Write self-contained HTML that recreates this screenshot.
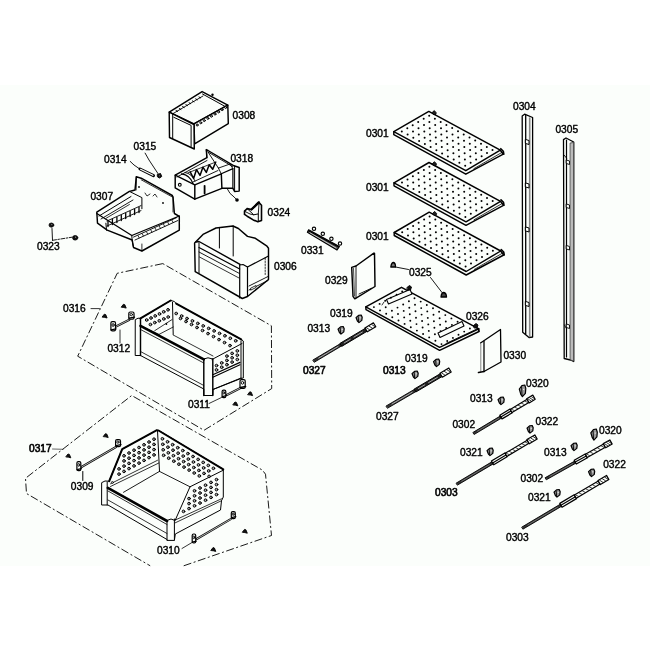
<!DOCTYPE html>
<html><head><meta charset="utf-8"><style>
html,body{margin:0;padding:0;background:#fff;}
svg{display:block;will-change:transform;}
text{font-family:"Liberation Sans",sans-serif;fill:#000;}
</style></head><body>
<svg width="650" height="650" viewBox="0 0 650 650" stroke-linejoin="round" stroke-linecap="round">
<rect width="650" height="650" fill="#fff"/>
<rect x="0" y="85" width="650" height="481" fill="#fbfefb"/>
<text x="232.6" y="118.6" font-size="10.2" stroke="#000" stroke-width="0.4">0308</text>
<text x="230.4" y="162.4" font-size="10.2" stroke="#000" stroke-width="0.4">0318</text>
<text x="133.6" y="150" font-size="10.2" stroke="#000" stroke-width="0.4">0315</text>
<text x="104" y="163" font-size="10.2" stroke="#000" stroke-width="0.4">0314</text>
<text x="90.4" y="199.6" font-size="10.2" stroke="#000" stroke-width="0.4">0307</text>
<text x="37" y="249.6" font-size="10.2" stroke="#000" stroke-width="0.4">0323</text>
<text x="267.6" y="216" font-size="10.2" stroke="#000" stroke-width="0.4">0324</text>
<text x="274" y="270" font-size="10.2" stroke="#000" stroke-width="0.4">0306</text>
<text x="301" y="254.4" font-size="10.2" stroke="#000" stroke-width="0.4">0331</text>
<text x="63" y="312" font-size="10.2" stroke="#000" stroke-width="0.4">0316</text>
<text x="107.4" y="352" font-size="10.2" stroke="#000" stroke-width="0.4">0312</text>
<text x="188" y="408" font-size="10.2" stroke="#000" stroke-width="0.4">0311</text>
<text x="29" y="451.8" font-size="10.2" stroke="#000" stroke-width="0.6">0317</text>
<text x="70.8" y="489.8" font-size="10.2" stroke="#000" stroke-width="0.4">0309</text>
<text x="157" y="553.6" font-size="10.2" stroke="#000" stroke-width="0.4">0310</text>
<text x="366" y="137.2" font-size="10.2" stroke="#000" stroke-width="0.4">0301</text>
<text x="366" y="191" font-size="10.2" stroke="#000" stroke-width="0.4">0301</text>
<text x="366" y="240" font-size="10.2" stroke="#000" stroke-width="0.4">0301</text>
<text x="513" y="110.4" font-size="10.2" stroke="#000" stroke-width="0.4">0304</text>
<text x="555.4" y="132.7" font-size="10.2" stroke="#000" stroke-width="0.4">0305</text>
<text x="325" y="284" font-size="10.2" stroke="#000" stroke-width="0.4">0329</text>
<text x="409" y="275.5" font-size="10.2" stroke="#000" stroke-width="0.4">0325</text>
<text x="330" y="316.6" font-size="10.2" stroke="#000" stroke-width="0.4">0319</text>
<text x="405" y="362" font-size="10.2" stroke="#000" stroke-width="0.4">0319</text>
<text x="307.4" y="332" font-size="10.2" stroke="#000" stroke-width="0.4">0313</text>
<text x="383" y="374.4" font-size="10.2" stroke="#000" stroke-width="0.6">0313</text>
<text x="470" y="402.4" font-size="10.2" stroke="#000" stroke-width="0.4">0313</text>
<text x="544" y="455.6" font-size="10.2" stroke="#000" stroke-width="0.4">0313</text>
<text x="466" y="319.6" font-size="10.2" stroke="#000" stroke-width="0.4">0326</text>
<text x="503.4" y="358.5" font-size="10.2" stroke="#000" stroke-width="0.4">0330</text>
<text x="303" y="374.4" font-size="10.2" stroke="#000" stroke-width="0.6">0327</text>
<text x="376" y="420" font-size="10.2" stroke="#000" stroke-width="0.4">0327</text>
<text x="526" y="387.4" font-size="10.2" stroke="#000" stroke-width="0.4">0320</text>
<text x="599" y="433.6" font-size="10.2" stroke="#000" stroke-width="0.4">0320</text>
<text x="452.4" y="428.2" font-size="10.2" stroke="#000" stroke-width="0.4">0302</text>
<text x="520.5" y="482" font-size="10.2" stroke="#000" stroke-width="0.4">0302</text>
<text x="535.5" y="425.4" font-size="10.2" stroke="#000" stroke-width="0.4">0322</text>
<text x="603.2" y="467.5" font-size="10.2" stroke="#000" stroke-width="0.4">0322</text>
<text x="460" y="455.6" font-size="10.2" stroke="#000" stroke-width="0.4">0321</text>
<text x="528" y="501.2" font-size="10.2" stroke="#000" stroke-width="0.4">0321</text>
<text x="435" y="495.6" font-size="10.2" stroke="#000" stroke-width="0.6">0303</text>
<text x="506" y="541" font-size="10.2" stroke="#000" stroke-width="0.4">0303</text>
<polyline points="162.8,263.6 117.2,273.3 77.7,356.2 204.0,430.3 271.7,388.6 271.4,325.8 162.8,263.6" fill="none" stroke="#000" stroke-width="0.9" stroke-dasharray="8 2.5 2 2.5" stroke-linecap="butt"/>
<polyline points="183.7,565.8 271.5,535.5 265.5,474.2 262.4,470.1 131.7,395.5 25.5,478.3 26.5,493.5 150.2,565.8" fill="none" stroke="#000" stroke-width="0.9" stroke-dasharray="8 2.5 2 2.5" stroke-linecap="butt"/>
<polygon points="169.2,112.1 202.1,91.6 227.8,105.2 194.0,123.8" fill="#fbfefb" stroke="#000" stroke-width="1.45" />
<polygon points="194.0,123.8 227.8,105.2 228.3,123.6 194.6,143.8" fill="#fbfefb" stroke="#000" stroke-width="1.45" />
<polygon points="169.2,112.1 194.0,124.5 194.3,149.0 169.5,137.5" fill="#fbfefb" stroke="#000" stroke-width="1.45" />
<polyline points="172.7,114.0 172.7,138.5" fill="none" stroke="#000" stroke-width="1.0" />
<polyline points="173.8,117.3 191.1,125.4 191.1,146.5" fill="none" stroke="#000" stroke-width="1.0" />
<polyline points="172.7,113.8 203.0,96.0" fill="none" stroke="#000" stroke-width="0.9" />
<polyline points="202.5,94.0 227.0,107.5" fill="none" stroke="#000" stroke-width="1.0" />
<line x1="176.0" y1="110.5" x2="177.6" y2="111.4" stroke="#000" stroke-width="1.0" />
<line x1="179.3" y1="108.6" x2="180.9" y2="109.5" stroke="#000" stroke-width="1.0" />
<line x1="182.6" y1="106.6" x2="184.2" y2="107.5" stroke="#000" stroke-width="1.0" />
<line x1="185.9" y1="104.7" x2="187.5" y2="105.6" stroke="#000" stroke-width="1.0" />
<line x1="189.1" y1="102.8" x2="190.7" y2="103.7" stroke="#000" stroke-width="1.0" />
<line x1="192.4" y1="100.9" x2="194.0" y2="101.8" stroke="#000" stroke-width="1.0" />
<line x1="195.7" y1="98.9" x2="197.3" y2="99.8" stroke="#000" stroke-width="1.0" />
<line x1="199.0" y1="97.0" x2="200.6" y2="97.9" stroke="#000" stroke-width="1.0" />
<circle cx="197.2" cy="125.0" r="1.0" fill="#fbfefb" stroke="#000" stroke-width="1.0"/>
<circle cx="200.8" cy="122.8" r="1.0" fill="#fbfefb" stroke="#000" stroke-width="1.0"/>
<circle cx="204.3" cy="120.6" r="1.0" fill="#fbfefb" stroke="#000" stroke-width="1.0"/>
<circle cx="207.9" cy="118.4" r="1.0" fill="#fbfefb" stroke="#000" stroke-width="1.0"/>
<circle cx="211.4" cy="116.2" r="1.0" fill="#fbfefb" stroke="#000" stroke-width="1.0"/>
<circle cx="215.0" cy="114.1" r="1.0" fill="#fbfefb" stroke="#000" stroke-width="1.0"/>
<circle cx="218.6" cy="111.9" r="1.0" fill="#fbfefb" stroke="#000" stroke-width="1.0"/>
<circle cx="222.1" cy="109.7" r="1.0" fill="#fbfefb" stroke="#000" stroke-width="1.0"/>
<circle cx="225.7" cy="107.5" r="1.0" fill="#fbfefb" stroke="#000" stroke-width="1.0"/>
<circle cx="212.5" cy="94.8" r="1.2" fill="#000" stroke="none" stroke-width="1"/>
<polygon points="175.2,175.2 206.9,157.7 206.3,149.6 208.0,150.5 234.0,165.8 239.2,167.5 239.2,191.1 234.6,191.5 232.9,188.3 221.9,188.3 194.8,199.2 175.2,187.9" fill="#fbfefb" stroke="#000" stroke-width="1.45" />
<polyline points="175.2,175.2 194.8,184.8 194.8,199.2" fill="none" stroke="#000" stroke-width="1.45" />
<polyline points="194.8,184.8 221.3,173.8 221.9,188.3" fill="none" stroke="#000" stroke-width="1.45" />
<polyline points="221.3,173.8 232.9,168.6 232.9,188.3" fill="none" stroke="#000" stroke-width="1.2" />
<polyline points="218.4,168.1 221.3,173.8" fill="none" stroke="#000" stroke-width="0.9" />
<polyline points="218.4,168.1 230.0,164.0 232.9,168.6" fill="none" stroke="#000" stroke-width="0.9" />
<polyline points="234.6,166.0 234.6,191.5" fill="none" stroke="#000" stroke-width="1.0" />
<polyline points="206.3,149.6 206.9,157.7" fill="none" stroke="#000" stroke-width="1.0" />
<polyline points="208.0,152.0 232.5,166.5" fill="none" stroke="#000" stroke-width="0.9" />
<polyline points="208.0,152.0 218.4,168.1" fill="none" stroke="#000" stroke-width="0.9" />
<polyline points="177.0,177.0 207.0,160.5" fill="none" stroke="#000" stroke-width="0.9" />
<polyline points="183.0,181.0 187.3,171.0" fill="none" stroke="#000" stroke-width="0.0" />
<polyline points="190.2,171.9 193.6,178.5 196.5,169.6 200.0,175.4 202.9,167.2 206.3,172.4 209.2,164.8 212.7,169.3 215.6,162.4" fill="none" stroke="#000" stroke-width="1.5" />
<polyline points="188.0,172.8 216.0,162.0" fill="none" stroke="#000" stroke-width="0.8" />
<polyline points="193.0,182.0 218.0,170.5" fill="none" stroke="#000" stroke-width="0.9" />
<path d="M181.5,173.8 Q190,175 193,183.5" fill="none" stroke="#000" stroke-width="1.2"/>
<path d="M185,172.5 Q192,173.5 195,181" fill="none" stroke="#000" stroke-width="0.9"/>
<polyline points="204.6,185.8 204.6,193.4" fill="none" stroke="#000" stroke-width="1.8" />
<circle cx="179.8" cy="184.8" r="1.4" fill="#fbfefb" stroke="#000" stroke-width="1.1"/>
<polyline points="227.0,188.3 230.0,193.4 233.0,196.0 236.3,199.2" fill="none" stroke="#000" stroke-width="0.9" />
<circle cx="237.0" cy="200.0" r="1.8" fill="#000" stroke="none" stroke-width="1"/>
<polyline points="145.1,153.1 149.0,160.0 158.2,173.9" fill="none" stroke="#000" stroke-width="0.9" />
<polyline points="130.2,161.4 134.0,165.0 138.9,168.4" fill="none" stroke="#000" stroke-width="0.9" />
<polyline points="140.0,169.0 153.5,175.6" fill="none" stroke="#000" stroke-width="3.0" />
<polyline points="140.6,169.3 152.9,175.3" fill="none" stroke="#fbfefb" stroke-width="1.2" />
<polygon points="157.6,174.5 160.5,173.5 161.7,176.5 159.5,178.0 157.8,177.0" fill="#111" stroke="#000" stroke-width="1.0" />
<circle cx="159.6" cy="175.8" r="0.5" fill="#888" stroke="none" stroke-width="1"/>
<polygon points="244.5,211.2 247.2,208.6 251.4,209.5 258.8,202.4 261.5,205.2 261.5,220.4 257.8,221.8 253.2,219.9 247.2,216.2 244.5,214.4" fill="#fbfefb" stroke="#000" stroke-width="1.6" />
<polyline points="247.2,208.6 253.7,214.8 258.3,213.9 258.3,221.3" fill="none" stroke="#000" stroke-width="1.0" />
<polyline points="259.0,204.0 258.3,213.9" fill="none" stroke="#000" stroke-width="0.9" />
<polyline points="244.5,211.2 250.0,214.0 253.7,214.8" fill="none" stroke="#000" stroke-width="0.9" />
<polyline points="251.4,209.5 258.8,202.4" fill="none" stroke="#000" stroke-width="2.4" />
<polyline points="52.0,228.5 52.5,240.3" fill="none" stroke="#000" stroke-width="0.9" />
<polyline points="52.5,240.3 72.0,237.2" fill="none" stroke="#000" stroke-width="0.9" stroke-dasharray="4 1.5 1.5 1.5"/>
<ellipse cx="51.4" cy="225.1" rx="2.4" ry="2.1" fill="#111" stroke="#000" stroke-width="0.8" transform="rotate(0 51.4 225.1)"/>
<circle cx="51.8" cy="224.6" r="0.6" fill="#999" stroke="none" stroke-width="1"/>
<ellipse cx="75.2" cy="237.8" rx="2.6" ry="2.3" fill="#111" stroke="#000" stroke-width="0.8" transform="rotate(0 75.2 237.8)"/>
<circle cx="75.6" cy="237.2" r="0.6" fill="#999" stroke="none" stroke-width="1"/>
<polygon points="96.8,212.2 129.4,191.4 132.2,190.7 135.0,190.0 136.3,176.8 141.2,178.2 172.3,195.5 173.0,197.0 174.4,213.5 179.3,216.3 179.3,230.2 141.9,251.0 133.5,247.5 132.2,240.0 107.2,230.2 97.5,223.2" fill="#fbfefb" stroke="#000" stroke-width="1.45" />
<polyline points="96.8,213.5 131.8,235.5 179.3,216.0" fill="none" stroke="#000" stroke-width="1.3" />
<polyline points="131.8,235.5 132.2,241.0 133.5,247.5" fill="none" stroke="#000" stroke-width="1.0" />
<polyline points="99.0,216.0 131.0,196.5" fill="none" stroke="#000" stroke-width="1.0" />
<polyline points="101.0,219.0 133.0,200.0" fill="none" stroke="#000" stroke-width="0.9" />
<polyline points="105.9,218.4 129.4,204.5" fill="none" stroke="#000" stroke-width="0.8" />
<polyline points="107.0,221.0 141.0,205.6" fill="none" stroke="#000" stroke-width="0.9" />
<polyline points="107.0,226.0 141.0,210.6" fill="none" stroke="#000" stroke-width="0.9" />
<line x1="108.0" y1="221.5" x2="108.0" y2="226.5" stroke="#000" stroke-width="1.3" />
<line x1="112.4" y1="219.5" x2="112.4" y2="224.5" stroke="#000" stroke-width="1.3" />
<line x1="116.9" y1="217.5" x2="116.9" y2="222.5" stroke="#000" stroke-width="1.3" />
<line x1="121.3" y1="215.5" x2="121.3" y2="220.5" stroke="#000" stroke-width="1.3" />
<line x1="125.7" y1="213.5" x2="125.7" y2="218.5" stroke="#000" stroke-width="1.3" />
<line x1="130.1" y1="211.5" x2="130.1" y2="216.5" stroke="#000" stroke-width="1.3" />
<line x1="134.6" y1="209.5" x2="134.6" y2="214.5" stroke="#000" stroke-width="1.3" />
<line x1="139.0" y1="207.5" x2="139.0" y2="212.5" stroke="#000" stroke-width="1.3" />
<polyline points="105.9,223.2 106.5,230.2" fill="none" stroke="#000" stroke-width="1.0" />
<polyline points="129.4,191.4 141.9,197.6 141.9,208.7" fill="none" stroke="#000" stroke-width="1.0" />
<polyline points="136.3,176.8 136.0,190.0" fill="none" stroke="#000" stroke-width="1.0" />
<polyline points="141.2,179.8 172.3,197.0" fill="none" stroke="#000" stroke-width="0.8" />
<polyline points="173.0,197.0 173.0,212.0" fill="none" stroke="#000" stroke-width="0.8" />
<polyline points="133.5,237.1 176.5,217.7" fill="none" stroke="#000" stroke-width="0.9" />
<polyline points="135.0,240.0 177.9,220.5" fill="none" stroke="#000" stroke-width="0.9" />
<line x1="138.0" y1="235.6" x2="139.2" y2="237.8" stroke="#000" stroke-width="0.8" />
<line x1="142.2" y1="233.7" x2="143.4" y2="235.9" stroke="#000" stroke-width="0.8" />
<line x1="146.5" y1="231.8" x2="147.7" y2="234.0" stroke="#000" stroke-width="0.8" />
<line x1="150.8" y1="229.9" x2="151.9" y2="232.1" stroke="#000" stroke-width="0.8" />
<line x1="155.0" y1="228.0" x2="156.2" y2="230.2" stroke="#000" stroke-width="0.8" />
<line x1="159.2" y1="226.1" x2="160.4" y2="228.3" stroke="#000" stroke-width="0.8" />
<line x1="163.5" y1="224.2" x2="164.7" y2="226.4" stroke="#000" stroke-width="0.8" />
<line x1="167.8" y1="222.3" x2="168.9" y2="224.5" stroke="#000" stroke-width="0.8" />
<line x1="172.0" y1="220.4" x2="173.2" y2="222.6" stroke="#000" stroke-width="0.8" />
<polyline points="141.9,251.0 141.9,244.0" fill="none" stroke="#000" stroke-width="0.8" />
<circle cx="139.0" cy="187.0" r="0.9" fill="#000" stroke="none" stroke-width="1"/>
<circle cx="163.0" cy="203.0" r="0.9" fill="#000" stroke="none" stroke-width="1"/>
<polyline points="145.0,193.0 147.0,196.0 150.0,194.0" fill="none" stroke="#000" stroke-width="0.8" />
<polyline points="153.0,196.0 155.0,194.0 157.0,197.0" fill="none" stroke="#000" stroke-width="0.8" />
<polygon points="194.6,243.0 203.0,234.4 216.0,228.0 233.0,226.0 238.4,228.5 247.5,236.4 255.4,238.3 267.0,246.2 268.5,248.2 268.5,279.5 247.5,296.5 242.3,298.5 195.2,271.7" fill="#fbfefb" stroke="#000" stroke-width="1.45" />
<polyline points="219.4,228.0 219.4,248.0" fill="none" stroke="#000" stroke-width="1.0" />
<polyline points="233.2,226.0 233.2,256.0" fill="none" stroke="#000" stroke-width="1.0" />
<polyline points="196.0,242.0 199.0,241.5 240.0,264.3" fill="none" stroke="#000" stroke-width="1.4" />
<polyline points="199.0,247.5 239.7,269.0" fill="none" stroke="#000" stroke-width="1.2" />
<polyline points="199.0,252.0 239.5,273.5" fill="none" stroke="#000" stroke-width="0.9" />
<polyline points="199.5,257.0 239.0,278.0" fill="none" stroke="#000" stroke-width="0.8" />
<polyline points="199.0,243.0 199.0,273.0" fill="none" stroke="#000" stroke-width="1.0" />
<polyline points="239.7,265.0 239.7,298.0" fill="none" stroke="#000" stroke-width="1.2" />
<polyline points="239.7,265.0 243.0,264.5 247.5,267.0 247.5,296.5" fill="none" stroke="#000" stroke-width="1.2" />
<polyline points="247.5,267.0 268.5,256.0" fill="none" stroke="#000" stroke-width="1.2" />
<polyline points="249.0,286.0 268.0,276.5" fill="none" stroke="#000" stroke-width="0.9" />
<polyline points="249.0,290.0 268.0,280.5" fill="none" stroke="#000" stroke-width="0.9" />
<polygon points="251.0,288.0 256.0,285.5 256.0,287.5 251.0,290.0" fill="#fbfefb" stroke="#000" stroke-width="0.8" />
<polyline points="265.2,258.0 265.2,276.0" fill="none" stroke="#000" stroke-width="0.8" stroke-dasharray="1.5 1.5"/>
<polygon points="308.6,229.8 339.4,246.5 337.0,250.0 307.4,232.3" fill="#555" stroke="#000" stroke-width="1.2" />
<polyline points="309.0,231.0 338.5,247.0" fill="none" stroke="#000" stroke-width="1.3" />
<polyline points="310.0,232.8 336.0,248.0" fill="none" stroke="#fbfefb" stroke-width="0.7" />
<circle cx="314.0" cy="228.8" r="1.7" fill="#fbfefb" stroke="#000" stroke-width="1.1"/>
<circle cx="322.8" cy="233.8" r="1.7" fill="#fbfefb" stroke="#000" stroke-width="1.1"/>
<circle cx="331.4" cy="238.8" r="1.7" fill="#fbfefb" stroke="#000" stroke-width="1.1"/>
<circle cx="340.0" cy="243.6" r="1.7" fill="#fbfefb" stroke="#000" stroke-width="1.1"/>
<line x1="91.0" y1="308.6" x2="99.5" y2="308.6" stroke="#000" stroke-width="0.8" />
<line x1="120.0" y1="330.0" x2="120.0" y2="343.0" stroke="#000" stroke-width="0.8" />
<polyline points="116.0,326.5 129.4,319.7" fill="none" stroke="#000" stroke-width="2.1" />
<polyline points="116.0,326.5 129.4,319.7" fill="none" stroke="#fbfefb" stroke-width="0.7" />
<rect x="110.9" y="321.6" width="4.6" height="9.2" rx="1.4" fill="#fbfefb" stroke="#000" stroke-width="1.2"/>
<ellipse cx="113.1" cy="325.0" rx="1.1160000000000005" ry="1.4559999999999969" fill="#fbfefb" stroke="#000" stroke-width="0.9" transform="rotate(0 113.1 325.0)"/>
<polyline points="111.1,329.9 116.0,328.9" fill="none" stroke="#000" stroke-width="1.3" />
<rect x="128.8" y="312.0" width="5.2" height="7.1" rx="1.4" fill="#fbfefb" stroke="#000" stroke-width="1.2"/>
<ellipse cx="131.3" cy="314.6" rx="1.224000000000002" ry="1.1620000000000017" fill="#fbfefb" stroke="#000" stroke-width="0.9" transform="rotate(0 131.3 314.6)"/>
<polyline points="129.0,318.2 134.5,317.2" fill="none" stroke="#000" stroke-width="1.3" />
<polygon points="102.3,316.8 104.3,314.2 105.7,314.6 107.1,318.0 105.1,317.5" fill="#111" stroke="#000" stroke-width="0.9" />
<polygon points="121.4,306.9 123.4,304.3 124.8,304.7 126.2,308.1 124.2,307.6" fill="#111" stroke="#000" stroke-width="0.9" />
<polygon points="135.6,319.5 138.0,318.2 140.5,318.4 170.7,300.5 174.4,301.5 176.2,303.6 241.2,339.4 243.3,341.0 243.3,378.0 241.0,378.5 213.0,389.5 212.8,395.5 203.8,395.5 203.8,389.0 140.5,355.5 135.6,355.5" fill="#fbfefb" stroke="#000" stroke-width="1" />
<polyline points="140.5,318.4 170.7,300.5" fill="none" stroke="#000" stroke-width="2" />
<polyline points="176.2,303.6 241.2,339.4" fill="none" stroke="#000" stroke-width="2" />
<polyline points="140.5,319.0 140.5,355.5" fill="none" stroke="#000" stroke-width="1.45" />
<polyline points="172.5,302.4 173.2,334.4" fill="none" stroke="#000" stroke-width="1" />
<polyline points="241.0,341.0 241.0,378.0" fill="none" stroke="#000" stroke-width="1" />
<polyline points="242.0,343.5 212.0,359.5" fill="none" stroke="#000" stroke-width="1" />
<polyline points="203.8,359.0 203.8,395.5" fill="none" stroke="#000" stroke-width="1.45" />
<polyline points="212.8,359.0 212.8,395.5" fill="none" stroke="#000" stroke-width="1.45" />
<polyline points="203.8,359.0 208.0,357.8 212.8,359.0" fill="none" stroke="#000" stroke-width="1" />
<polyline points="140.5,325.8 203.8,359.3" fill="none" stroke="#000" stroke-width="2.6" />
<polyline points="140.5,329.5 203.8,363.0" fill="none" stroke="#000" stroke-width="0.8" />
<polyline points="140.5,351.5 203.8,385.5" fill="none" stroke="#000" stroke-width="0.8" />
<polyline points="212.8,374.8 240.0,362.4" fill="none" stroke="#000" stroke-width="1.2" />
<polyline points="212.8,377.2 240.0,364.8" fill="none" stroke="#000" stroke-width="1.2" />
<polyline points="212.8,389.5 241.0,378.0" fill="none" stroke="#000" stroke-width="1" />
<polyline points="154.7,330.7 172.0,319.6" fill="none" stroke="#000" stroke-width="0.8" />
<polyline points="159.0,334.4 173.2,327.0" fill="none" stroke="#000" stroke-width="0.8" />
<polyline points="173.2,335.0 213.0,356.0" fill="none" stroke="#000" stroke-width="0.8" />
<polyline points="143.0,327.0 159.0,334.4" fill="none" stroke="#000" stroke-width="0.8" />
<circle cx="166.4" cy="324.0" r="0.9" fill="#000" stroke="none" stroke-width="1"/>
<circle cx="146.7" cy="320.0" r="1.35" fill="#aaa" stroke="#000" stroke-width="0.95"/>
<circle cx="151.0" cy="318.0" r="1.35" fill="#aaa" stroke="#000" stroke-width="0.95"/>
<circle cx="155.2" cy="315.9" r="1.35" fill="#aaa" stroke="#000" stroke-width="0.95"/>
<circle cx="159.5" cy="313.9" r="1.35" fill="#aaa" stroke="#000" stroke-width="0.95"/>
<circle cx="163.7" cy="311.8" r="1.35" fill="#aaa" stroke="#000" stroke-width="0.95"/>
<circle cx="168.0" cy="309.8" r="1.35" fill="#aaa" stroke="#000" stroke-width="0.95"/>
<circle cx="150.4" cy="324.5" r="1.35" fill="#aaa" stroke="#000" stroke-width="0.95"/>
<circle cx="154.8" cy="322.6" r="1.35" fill="#aaa" stroke="#000" stroke-width="0.95"/>
<circle cx="159.3" cy="320.8" r="1.35" fill="#aaa" stroke="#000" stroke-width="0.95"/>
<circle cx="163.8" cy="318.9" r="1.35" fill="#aaa" stroke="#000" stroke-width="0.95"/>
<circle cx="168.2" cy="317.0" r="1.35" fill="#aaa" stroke="#000" stroke-width="0.95"/>
<circle cx="176.2" cy="313.5" r="1.35" fill="#aaa" stroke="#000" stroke-width="0.95"/>
<circle cx="181.6" cy="316.0" r="1.35" fill="#aaa" stroke="#000" stroke-width="0.95"/>
<circle cx="187.0" cy="318.5" r="1.35" fill="#aaa" stroke="#000" stroke-width="0.95"/>
<circle cx="192.4" cy="320.9" r="1.35" fill="#aaa" stroke="#000" stroke-width="0.95"/>
<circle cx="197.8" cy="323.4" r="1.35" fill="#aaa" stroke="#000" stroke-width="0.95"/>
<circle cx="203.2" cy="325.9" r="1.35" fill="#aaa" stroke="#000" stroke-width="0.95"/>
<circle cx="208.7" cy="328.4" r="1.35" fill="#aaa" stroke="#000" stroke-width="0.95"/>
<circle cx="214.1" cy="330.9" r="1.35" fill="#aaa" stroke="#000" stroke-width="0.95"/>
<circle cx="219.5" cy="333.4" r="1.35" fill="#aaa" stroke="#000" stroke-width="0.95"/>
<circle cx="224.9" cy="335.8" r="1.35" fill="#aaa" stroke="#000" stroke-width="0.95"/>
<circle cx="230.3" cy="338.3" r="1.35" fill="#aaa" stroke="#000" stroke-width="0.95"/>
<circle cx="235.7" cy="340.8" r="1.35" fill="#aaa" stroke="#000" stroke-width="0.95"/>
<circle cx="180.5" cy="318.5" r="1.35" fill="#aaa" stroke="#000" stroke-width="0.95"/>
<circle cx="186.0" cy="321.5" r="1.35" fill="#aaa" stroke="#000" stroke-width="0.95"/>
<circle cx="191.5" cy="324.5" r="1.35" fill="#aaa" stroke="#000" stroke-width="0.95"/>
<circle cx="197.0" cy="327.5" r="1.35" fill="#aaa" stroke="#000" stroke-width="0.95"/>
<circle cx="202.5" cy="330.5" r="1.35" fill="#aaa" stroke="#000" stroke-width="0.95"/>
<circle cx="208.0" cy="333.6" r="1.35" fill="#aaa" stroke="#000" stroke-width="0.95"/>
<circle cx="213.5" cy="336.6" r="1.35" fill="#aaa" stroke="#000" stroke-width="0.95"/>
<circle cx="219.0" cy="339.6" r="1.35" fill="#aaa" stroke="#000" stroke-width="0.95"/>
<circle cx="224.5" cy="342.6" r="1.35" fill="#aaa" stroke="#000" stroke-width="0.95"/>
<circle cx="230.0" cy="345.6" r="1.35" fill="#aaa" stroke="#000" stroke-width="0.95"/>
<circle cx="226.9" cy="356.1" r="1.35" fill="#aaa" stroke="#000" stroke-width="0.95"/>
<circle cx="232.1" cy="353.4" r="1.35" fill="#aaa" stroke="#000" stroke-width="0.95"/>
<circle cx="237.3" cy="350.9" r="1.35" fill="#aaa" stroke="#000" stroke-width="0.95"/>
<circle cx="216.5" cy="365.6" r="1.35" fill="#aaa" stroke="#000" stroke-width="0.95"/>
<circle cx="221.7" cy="362.9" r="1.35" fill="#aaa" stroke="#000" stroke-width="0.95"/>
<circle cx="226.9" cy="360.4" r="1.35" fill="#aaa" stroke="#000" stroke-width="0.95"/>
<circle cx="232.1" cy="357.8" r="1.35" fill="#aaa" stroke="#000" stroke-width="0.95"/>
<circle cx="237.3" cy="355.2" r="1.35" fill="#aaa" stroke="#000" stroke-width="0.95"/>
<circle cx="216.5" cy="369.9" r="1.35" fill="#aaa" stroke="#000" stroke-width="0.95"/>
<circle cx="221.7" cy="367.2" r="1.35" fill="#aaa" stroke="#000" stroke-width="0.95"/>
<circle cx="226.9" cy="364.7" r="1.35" fill="#aaa" stroke="#000" stroke-width="0.95"/>
<circle cx="232.1" cy="362.1" r="1.35" fill="#aaa" stroke="#000" stroke-width="0.95"/>
<circle cx="237.3" cy="359.5" r="1.35" fill="#aaa" stroke="#000" stroke-width="0.95"/>
<line x1="209.0" y1="403.5" x2="221.5" y2="397.5" stroke="#000" stroke-width="0.8" />
<polyline points="226.8,395.0 240.0,388.3" fill="none" stroke="#000" stroke-width="2.1" />
<polyline points="226.8,395.0 240.0,388.3" fill="none" stroke="#fbfefb" stroke-width="0.7" />
<rect x="222.1" y="390.1" width="3.7" height="7.5" rx="1.4" fill="#fbfefb" stroke="#000" stroke-width="1.2"/>
<ellipse cx="223.9" cy="392.8" rx="0.954000000000002" ry="1.2179999999999984" fill="#fbfefb" stroke="#000" stroke-width="0.9" transform="rotate(0 223.9 392.8)"/>
<polyline points="222.3,396.7 226.3,395.7" fill="none" stroke="#000" stroke-width="1.3" />
<rect x="240.0" y="379.6" width="5.2" height="8.8" rx="1.4" fill="#fbfefb" stroke="#000" stroke-width="1.2"/>
<ellipse cx="242.5" cy="382.8" rx="1.2239999999999969" ry="1.4000000000000001" fill="#fbfefb" stroke="#000" stroke-width="0.9" transform="rotate(0 242.5 382.8)"/>
<polyline points="240.2,387.5 245.7,386.5" fill="none" stroke="#000" stroke-width="1.3" />
<polygon points="247.8,394.4 249.8,391.8 251.2,392.2 252.6,395.6 250.6,395.1" fill="#111" stroke="#000" stroke-width="0.9" />
<polygon points="233.0,404.6 235.0,402.0 236.4,402.4 237.8,405.8 235.8,405.3" fill="#111" stroke="#000" stroke-width="0.9" />
<line x1="52.5" y1="449.0" x2="63.0" y2="449.3" stroke="#000" stroke-width="0.6" />
<line x1="82.8" y1="471.5" x2="82.8" y2="480.5" stroke="#000" stroke-width="1" />
<line x1="182.0" y1="548.5" x2="192.0" y2="542.5" stroke="#000" stroke-width="0.8" />
<polyline points="81.5,467.0 116.0,447.0" fill="none" stroke="#000" stroke-width="2.1" />
<polyline points="81.5,467.0 116.0,447.0" fill="none" stroke="#fbfefb" stroke-width="0.7" />
<rect x="76.9" y="461.6" width="3.9" height="9.0" rx="1.4" fill="#fbfefb" stroke="#000" stroke-width="1.2"/>
<ellipse cx="78.8" cy="464.9" rx="0.99" ry="1.4279999999999986" fill="#fbfefb" stroke="#000" stroke-width="0.9" transform="rotate(0 78.8 464.9)"/>
<polyline points="77.1,469.7 81.3,468.7" fill="none" stroke="#000" stroke-width="1.3" />
<rect x="115.6" y="439.6" width="4.9" height="7.0" rx="1.4" fill="#fbfefb" stroke="#000" stroke-width="1.2"/>
<ellipse cx="117.9" cy="442.1" rx="1.17" ry="1.1479999999999986" fill="#fbfefb" stroke="#000" stroke-width="0.9" transform="rotate(0 117.9 442.1)"/>
<polyline points="115.8,445.7 121.0,444.7" fill="none" stroke="#000" stroke-width="1.3" />
<polygon points="66.0,456.6 68.0,454.0 69.4,454.4 70.8,457.8 68.8,457.3" fill="#111" stroke="#000" stroke-width="0.9" />
<polygon points="103.4,436.3 105.4,433.7 106.8,434.1 108.2,437.5 106.2,437.0" fill="#111" stroke="#000" stroke-width="0.9" />
<polygon points="102.0,482.5 105.0,481.0 109.2,481.2 122.2,449.2 156.9,430.2 159.0,430.5 223.3,469.3 223.3,497.0 221.5,500.7 220.5,510.0 175.3,534.0 174.4,540.4 167.0,540.4 167.0,539.5 108.0,505.0 102.0,505.0" fill="#fbfefb" stroke="#000" stroke-width="1" />
<polyline points="109.2,481.2 122.2,449.2 156.9,430.2" fill="none" stroke="#000" stroke-width="2" />
<polyline points="158.5,430.5 223.3,469.3" fill="none" stroke="#000" stroke-width="2" />
<polyline points="157.5,430.2 159.5,471.4" fill="none" stroke="#000" stroke-width="1" />
<polyline points="107.2,482.0 107.2,505.0" fill="none" stroke="#000" stroke-width="1" />
<polyline points="107.8,487.8 167.0,521.0" fill="none" stroke="#000" stroke-width="2.6" />
<polyline points="108.0,491.0 167.0,524.5" fill="none" stroke="#000" stroke-width="0.8" />
<polyline points="108.0,500.0 167.0,533.5" fill="none" stroke="#000" stroke-width="0.8" />
<polyline points="167.0,521.0 167.0,540.0" fill="none" stroke="#000" stroke-width="1" />
<polyline points="174.4,519.0 174.4,540.0" fill="none" stroke="#000" stroke-width="1" />
<polyline points="167.0,520.5 171.0,519.0 175.0,520.5" fill="none" stroke="#000" stroke-width="1" />
<polyline points="110.5,483.8 157.5,460.3" fill="none" stroke="#000" stroke-width="0.8" />
<polyline points="110.5,486.5 158.8,463.0" fill="none" stroke="#000" stroke-width="0.8" />
<polyline points="159.5,471.4 190.0,486.8" fill="none" stroke="#000" stroke-width="0.9" />
<polyline points="159.5,471.4 123.5,492.3" fill="none" stroke="#000" stroke-width="0.9" />
<polyline points="223.3,470.2 190.0,486.8 175.3,520.0" fill="none" stroke="#000" stroke-width="1" />
<polyline points="175.3,520.0 221.5,498.8" fill="none" stroke="#000" stroke-width="0.8" />
<polyline points="175.3,522.8 221.5,500.7" fill="none" stroke="#000" stroke-width="0.8" />
<circle cx="112.4" cy="482.5" r="1" fill="#fbfefb" stroke="#000" stroke-width="0.8"/>
<circle cx="119.0" cy="468.9" r="1.35" fill="#aaa" stroke="#000" stroke-width="0.95"/>
<circle cx="119.0" cy="474.1" r="1.35" fill="#aaa" stroke="#000" stroke-width="0.95"/>
<circle cx="124.0" cy="455.8" r="1.35" fill="#aaa" stroke="#000" stroke-width="0.95"/>
<circle cx="124.0" cy="460.9" r="1.35" fill="#aaa" stroke="#000" stroke-width="0.95"/>
<circle cx="124.0" cy="466.1" r="1.35" fill="#aaa" stroke="#000" stroke-width="0.95"/>
<circle cx="124.0" cy="471.4" r="1.35" fill="#aaa" stroke="#000" stroke-width="0.95"/>
<circle cx="129.0" cy="453.0" r="1.35" fill="#aaa" stroke="#000" stroke-width="0.95"/>
<circle cx="129.0" cy="458.2" r="1.35" fill="#aaa" stroke="#000" stroke-width="0.95"/>
<circle cx="129.0" cy="463.4" r="1.35" fill="#aaa" stroke="#000" stroke-width="0.95"/>
<circle cx="129.0" cy="468.6" r="1.35" fill="#aaa" stroke="#000" stroke-width="0.95"/>
<circle cx="134.0" cy="450.2" r="1.35" fill="#aaa" stroke="#000" stroke-width="0.95"/>
<circle cx="134.0" cy="455.4" r="1.35" fill="#aaa" stroke="#000" stroke-width="0.95"/>
<circle cx="134.0" cy="460.6" r="1.35" fill="#aaa" stroke="#000" stroke-width="0.95"/>
<circle cx="134.0" cy="465.9" r="1.35" fill="#aaa" stroke="#000" stroke-width="0.95"/>
<circle cx="139.0" cy="447.5" r="1.35" fill="#aaa" stroke="#000" stroke-width="0.95"/>
<circle cx="139.0" cy="452.7" r="1.35" fill="#aaa" stroke="#000" stroke-width="0.95"/>
<circle cx="139.0" cy="457.9" r="1.35" fill="#aaa" stroke="#000" stroke-width="0.95"/>
<circle cx="139.0" cy="463.1" r="1.35" fill="#aaa" stroke="#000" stroke-width="0.95"/>
<circle cx="144.0" cy="444.8" r="1.35" fill="#aaa" stroke="#000" stroke-width="0.95"/>
<circle cx="144.0" cy="449.9" r="1.35" fill="#aaa" stroke="#000" stroke-width="0.95"/>
<circle cx="144.0" cy="455.1" r="1.35" fill="#aaa" stroke="#000" stroke-width="0.95"/>
<circle cx="144.0" cy="460.4" r="1.35" fill="#aaa" stroke="#000" stroke-width="0.95"/>
<circle cx="149.0" cy="442.0" r="1.35" fill="#aaa" stroke="#000" stroke-width="0.95"/>
<circle cx="149.0" cy="447.2" r="1.35" fill="#aaa" stroke="#000" stroke-width="0.95"/>
<circle cx="149.0" cy="452.4" r="1.35" fill="#aaa" stroke="#000" stroke-width="0.95"/>
<circle cx="149.0" cy="457.6" r="1.35" fill="#aaa" stroke="#000" stroke-width="0.95"/>
<circle cx="154.0" cy="439.2" r="1.35" fill="#aaa" stroke="#000" stroke-width="0.95"/>
<circle cx="154.0" cy="444.4" r="1.35" fill="#aaa" stroke="#000" stroke-width="0.95"/>
<circle cx="154.0" cy="449.6" r="1.35" fill="#aaa" stroke="#000" stroke-width="0.95"/>
<circle cx="154.0" cy="454.9" r="1.35" fill="#aaa" stroke="#000" stroke-width="0.95"/>
<circle cx="162.4" cy="438.8" r="1.35" fill="#aaa" stroke="#000" stroke-width="0.95"/>
<circle cx="162.8" cy="444.3" r="1.35" fill="#aaa" stroke="#000" stroke-width="0.95"/>
<circle cx="163.2" cy="449.8" r="1.35" fill="#aaa" stroke="#000" stroke-width="0.95"/>
<circle cx="163.6" cy="455.3" r="1.35" fill="#aaa" stroke="#000" stroke-width="0.95"/>
<circle cx="167.5" cy="441.8" r="1.35" fill="#aaa" stroke="#000" stroke-width="0.95"/>
<circle cx="167.9" cy="447.2" r="1.35" fill="#aaa" stroke="#000" stroke-width="0.95"/>
<circle cx="168.3" cy="452.8" r="1.35" fill="#aaa" stroke="#000" stroke-width="0.95"/>
<circle cx="168.7" cy="458.2" r="1.35" fill="#aaa" stroke="#000" stroke-width="0.95"/>
<circle cx="172.6" cy="444.7" r="1.35" fill="#aaa" stroke="#000" stroke-width="0.95"/>
<circle cx="173.0" cy="450.2" r="1.35" fill="#aaa" stroke="#000" stroke-width="0.95"/>
<circle cx="173.4" cy="455.7" r="1.35" fill="#aaa" stroke="#000" stroke-width="0.95"/>
<circle cx="173.8" cy="461.2" r="1.35" fill="#aaa" stroke="#000" stroke-width="0.95"/>
<circle cx="177.7" cy="447.7" r="1.35" fill="#aaa" stroke="#000" stroke-width="0.95"/>
<circle cx="178.1" cy="453.2" r="1.35" fill="#aaa" stroke="#000" stroke-width="0.95"/>
<circle cx="178.5" cy="458.7" r="1.35" fill="#aaa" stroke="#000" stroke-width="0.95"/>
<circle cx="178.9" cy="464.2" r="1.35" fill="#aaa" stroke="#000" stroke-width="0.95"/>
<circle cx="182.8" cy="450.6" r="1.35" fill="#aaa" stroke="#000" stroke-width="0.95"/>
<circle cx="183.2" cy="456.1" r="1.35" fill="#aaa" stroke="#000" stroke-width="0.95"/>
<circle cx="183.6" cy="461.6" r="1.35" fill="#aaa" stroke="#000" stroke-width="0.95"/>
<circle cx="184.0" cy="467.1" r="1.35" fill="#aaa" stroke="#000" stroke-width="0.95"/>
<circle cx="187.9" cy="453.6" r="1.35" fill="#aaa" stroke="#000" stroke-width="0.95"/>
<circle cx="188.3" cy="459.1" r="1.35" fill="#aaa" stroke="#000" stroke-width="0.95"/>
<circle cx="188.7" cy="464.6" r="1.35" fill="#aaa" stroke="#000" stroke-width="0.95"/>
<circle cx="189.1" cy="470.1" r="1.35" fill="#aaa" stroke="#000" stroke-width="0.95"/>
<circle cx="193.0" cy="456.5" r="1.35" fill="#aaa" stroke="#000" stroke-width="0.95"/>
<circle cx="193.4" cy="462.0" r="1.35" fill="#aaa" stroke="#000" stroke-width="0.95"/>
<circle cx="193.8" cy="467.5" r="1.35" fill="#aaa" stroke="#000" stroke-width="0.95"/>
<circle cx="194.2" cy="473.0" r="1.35" fill="#aaa" stroke="#000" stroke-width="0.95"/>
<circle cx="198.1" cy="459.4" r="1.35" fill="#aaa" stroke="#000" stroke-width="0.95"/>
<circle cx="198.5" cy="464.9" r="1.35" fill="#aaa" stroke="#000" stroke-width="0.95"/>
<circle cx="198.9" cy="470.4" r="1.35" fill="#aaa" stroke="#000" stroke-width="0.95"/>
<circle cx="199.3" cy="475.9" r="1.35" fill="#aaa" stroke="#000" stroke-width="0.95"/>
<circle cx="203.2" cy="462.4" r="1.35" fill="#aaa" stroke="#000" stroke-width="0.95"/>
<circle cx="203.6" cy="467.9" r="1.35" fill="#aaa" stroke="#000" stroke-width="0.95"/>
<circle cx="204.0" cy="473.4" r="1.35" fill="#aaa" stroke="#000" stroke-width="0.95"/>
<circle cx="208.3" cy="465.4" r="1.35" fill="#aaa" stroke="#000" stroke-width="0.95"/>
<circle cx="208.7" cy="470.9" r="1.35" fill="#aaa" stroke="#000" stroke-width="0.95"/>
<circle cx="209.1" cy="476.4" r="1.35" fill="#aaa" stroke="#000" stroke-width="0.95"/>
<circle cx="213.4" cy="468.3" r="1.35" fill="#aaa" stroke="#000" stroke-width="0.95"/>
<circle cx="183.5" cy="511.4" r="1.35" fill="#aaa" stroke="#000" stroke-width="0.95"/>
<circle cx="189.0" cy="498.6" r="1.35" fill="#aaa" stroke="#000" stroke-width="0.95"/>
<circle cx="189.0" cy="503.6" r="1.35" fill="#aaa" stroke="#000" stroke-width="0.95"/>
<circle cx="189.0" cy="508.6" r="1.35" fill="#aaa" stroke="#000" stroke-width="0.95"/>
<circle cx="194.5" cy="490.8" r="1.35" fill="#aaa" stroke="#000" stroke-width="0.95"/>
<circle cx="194.5" cy="495.8" r="1.35" fill="#aaa" stroke="#000" stroke-width="0.95"/>
<circle cx="194.5" cy="500.8" r="1.35" fill="#aaa" stroke="#000" stroke-width="0.95"/>
<circle cx="194.5" cy="505.8" r="1.35" fill="#aaa" stroke="#000" stroke-width="0.95"/>
<circle cx="200.0" cy="488.0" r="1.35" fill="#aaa" stroke="#000" stroke-width="0.95"/>
<circle cx="200.0" cy="493.0" r="1.35" fill="#aaa" stroke="#000" stroke-width="0.95"/>
<circle cx="200.0" cy="498.0" r="1.35" fill="#aaa" stroke="#000" stroke-width="0.95"/>
<circle cx="200.0" cy="503.0" r="1.35" fill="#aaa" stroke="#000" stroke-width="0.95"/>
<circle cx="205.5" cy="485.2" r="1.35" fill="#aaa" stroke="#000" stroke-width="0.95"/>
<circle cx="205.5" cy="490.2" r="1.35" fill="#aaa" stroke="#000" stroke-width="0.95"/>
<circle cx="205.5" cy="495.2" r="1.35" fill="#aaa" stroke="#000" stroke-width="0.95"/>
<circle cx="205.5" cy="500.2" r="1.35" fill="#aaa" stroke="#000" stroke-width="0.95"/>
<circle cx="211.0" cy="482.4" r="1.35" fill="#aaa" stroke="#000" stroke-width="0.95"/>
<circle cx="211.0" cy="487.4" r="1.35" fill="#aaa" stroke="#000" stroke-width="0.95"/>
<circle cx="211.0" cy="492.4" r="1.35" fill="#aaa" stroke="#000" stroke-width="0.95"/>
<circle cx="211.0" cy="497.4" r="1.35" fill="#aaa" stroke="#000" stroke-width="0.95"/>
<circle cx="216.5" cy="479.6" r="1.35" fill="#aaa" stroke="#000" stroke-width="0.95"/>
<circle cx="216.5" cy="484.6" r="1.35" fill="#aaa" stroke="#000" stroke-width="0.95"/>
<circle cx="216.5" cy="489.6" r="1.35" fill="#aaa" stroke="#000" stroke-width="0.95"/>
<circle cx="216.5" cy="494.6" r="1.35" fill="#aaa" stroke="#000" stroke-width="0.95"/>
<polyline points="196.7,539.0 230.7,519.2" fill="none" stroke="#000" stroke-width="2.1" />
<polyline points="196.7,539.0 230.7,519.2" fill="none" stroke="#fbfefb" stroke-width="0.7" />
<rect x="192.2" y="534.0" width="3.5" height="9.0" rx="1.4" fill="#fbfefb" stroke="#000" stroke-width="1.2"/>
<ellipse cx="193.9" cy="537.3" rx="0.9179999999999989" ry="1.4280000000000066" fill="#fbfefb" stroke="#000" stroke-width="0.9" transform="rotate(0 193.9 537.3)"/>
<polyline points="192.4,542.1 196.2,541.1" fill="none" stroke="#000" stroke-width="1.3" />
<rect x="231.3" y="511.7" width="4.0" height="6.9" rx="1.4" fill="#fbfefb" stroke="#000" stroke-width="1.2"/>
<ellipse cx="233.2" cy="514.2" rx="1.008000000000004" ry="1.1340000000000032" fill="#fbfefb" stroke="#000" stroke-width="0.9" transform="rotate(0 233.2 514.2)"/>
<polyline points="231.5,517.7 235.8,516.7" fill="none" stroke="#000" stroke-width="1.3" />
<polygon points="211.0,550.2 213.0,547.6 214.4,548.0 215.8,551.4 213.8,550.9" fill="#111" stroke="#000" stroke-width="0.9" />
<polygon points="242.5,532.0 244.5,529.4 245.9,529.8 247.3,533.2 245.3,532.7" fill="#111" stroke="#000" stroke-width="0.9" />
<polygon points="393.8,131.7 428.8,111.4 500.3,150.2 503.3,154.2 465.8,174.2 393.8,134.7" fill="#fbfefb" stroke="#000" stroke-width="1.45" />
<polyline points="393.8,131.7 465.8,170.7 500.3,150.2" fill="none" stroke="#000" stroke-width="1.45" />
<polyline points="473.8,168.7 502.3,152.2" fill="none" stroke="#000" stroke-width="0.8" />
<circle cx="401.8" cy="131.5" r="1.0" fill="#000" stroke="none" stroke-width="1"/>
<circle cx="407.3" cy="128.3" r="1.0" fill="#000" stroke="none" stroke-width="1"/>
<circle cx="412.7" cy="125.2" r="1.0" fill="#000" stroke="none" stroke-width="1"/>
<circle cx="418.2" cy="122.0" r="1.0" fill="#000" stroke="none" stroke-width="1"/>
<circle cx="423.7" cy="118.8" r="1.0" fill="#000" stroke="none" stroke-width="1"/>
<circle cx="429.2" cy="115.7" r="1.0" fill="#000" stroke="none" stroke-width="1"/>
<circle cx="407.6" cy="134.6" r="1.0" fill="#000" stroke="none" stroke-width="1"/>
<circle cx="413.0" cy="131.5" r="1.0" fill="#000" stroke="none" stroke-width="1"/>
<circle cx="418.5" cy="128.3" r="1.0" fill="#000" stroke="none" stroke-width="1"/>
<circle cx="424.0" cy="125.1" r="1.0" fill="#000" stroke="none" stroke-width="1"/>
<circle cx="429.4" cy="121.9" r="1.0" fill="#000" stroke="none" stroke-width="1"/>
<circle cx="434.9" cy="118.8" r="1.0" fill="#000" stroke="none" stroke-width="1"/>
<circle cx="413.3" cy="137.8" r="1.0" fill="#000" stroke="none" stroke-width="1"/>
<circle cx="418.8" cy="134.6" r="1.0" fill="#000" stroke="none" stroke-width="1"/>
<circle cx="424.3" cy="131.4" r="1.0" fill="#000" stroke="none" stroke-width="1"/>
<circle cx="429.7" cy="128.2" r="1.0" fill="#000" stroke="none" stroke-width="1"/>
<circle cx="435.2" cy="125.1" r="1.0" fill="#000" stroke="none" stroke-width="1"/>
<circle cx="440.7" cy="121.9" r="1.0" fill="#000" stroke="none" stroke-width="1"/>
<circle cx="419.1" cy="140.9" r="1.0" fill="#000" stroke="none" stroke-width="1"/>
<circle cx="424.6" cy="137.7" r="1.0" fill="#000" stroke="none" stroke-width="1"/>
<circle cx="430.0" cy="134.5" r="1.0" fill="#000" stroke="none" stroke-width="1"/>
<circle cx="435.5" cy="131.4" r="1.0" fill="#000" stroke="none" stroke-width="1"/>
<circle cx="441.0" cy="128.2" r="1.0" fill="#000" stroke="none" stroke-width="1"/>
<circle cx="446.4" cy="125.0" r="1.0" fill="#000" stroke="none" stroke-width="1"/>
<circle cx="424.9" cy="144.0" r="1.0" fill="#000" stroke="none" stroke-width="1"/>
<circle cx="430.3" cy="140.8" r="1.0" fill="#000" stroke="none" stroke-width="1"/>
<circle cx="435.8" cy="137.6" r="1.0" fill="#000" stroke="none" stroke-width="1"/>
<circle cx="441.3" cy="134.5" r="1.0" fill="#000" stroke="none" stroke-width="1"/>
<circle cx="446.7" cy="131.3" r="1.0" fill="#000" stroke="none" stroke-width="1"/>
<circle cx="452.2" cy="128.1" r="1.0" fill="#000" stroke="none" stroke-width="1"/>
<circle cx="430.6" cy="147.1" r="1.0" fill="#000" stroke="none" stroke-width="1"/>
<circle cx="436.1" cy="143.9" r="1.0" fill="#000" stroke="none" stroke-width="1"/>
<circle cx="441.5" cy="140.8" r="1.0" fill="#000" stroke="none" stroke-width="1"/>
<circle cx="447.0" cy="137.6" r="1.0" fill="#000" stroke="none" stroke-width="1"/>
<circle cx="452.5" cy="134.4" r="1.0" fill="#000" stroke="none" stroke-width="1"/>
<circle cx="458.0" cy="131.3" r="1.0" fill="#000" stroke="none" stroke-width="1"/>
<circle cx="436.4" cy="150.2" r="1.0" fill="#000" stroke="none" stroke-width="1"/>
<circle cx="441.8" cy="147.1" r="1.0" fill="#000" stroke="none" stroke-width="1"/>
<circle cx="447.3" cy="143.9" r="1.0" fill="#000" stroke="none" stroke-width="1"/>
<circle cx="452.8" cy="140.7" r="1.0" fill="#000" stroke="none" stroke-width="1"/>
<circle cx="458.2" cy="137.5" r="1.0" fill="#000" stroke="none" stroke-width="1"/>
<circle cx="463.7" cy="134.4" r="1.0" fill="#000" stroke="none" stroke-width="1"/>
<circle cx="442.1" cy="153.4" r="1.0" fill="#000" stroke="none" stroke-width="1"/>
<circle cx="447.6" cy="150.2" r="1.0" fill="#000" stroke="none" stroke-width="1"/>
<circle cx="453.1" cy="147.0" r="1.0" fill="#000" stroke="none" stroke-width="1"/>
<circle cx="458.5" cy="143.8" r="1.0" fill="#000" stroke="none" stroke-width="1"/>
<circle cx="464.0" cy="140.7" r="1.0" fill="#000" stroke="none" stroke-width="1"/>
<circle cx="469.5" cy="137.5" r="1.0" fill="#000" stroke="none" stroke-width="1"/>
<circle cx="447.9" cy="156.5" r="1.0" fill="#000" stroke="none" stroke-width="1"/>
<circle cx="453.4" cy="153.3" r="1.0" fill="#000" stroke="none" stroke-width="1"/>
<circle cx="458.8" cy="150.1" r="1.0" fill="#000" stroke="none" stroke-width="1"/>
<circle cx="464.3" cy="147.0" r="1.0" fill="#000" stroke="none" stroke-width="1"/>
<circle cx="469.8" cy="143.8" r="1.0" fill="#000" stroke="none" stroke-width="1"/>
<circle cx="475.2" cy="140.6" r="1.0" fill="#000" stroke="none" stroke-width="1"/>
<circle cx="453.7" cy="159.6" r="1.0" fill="#000" stroke="none" stroke-width="1"/>
<circle cx="459.1" cy="156.4" r="1.0" fill="#000" stroke="none" stroke-width="1"/>
<circle cx="464.6" cy="153.2" r="1.0" fill="#000" stroke="none" stroke-width="1"/>
<circle cx="470.1" cy="150.1" r="1.0" fill="#000" stroke="none" stroke-width="1"/>
<circle cx="475.5" cy="146.9" r="1.0" fill="#000" stroke="none" stroke-width="1"/>
<circle cx="481.0" cy="143.7" r="1.0" fill="#000" stroke="none" stroke-width="1"/>
<circle cx="459.4" cy="162.7" r="1.0" fill="#000" stroke="none" stroke-width="1"/>
<circle cx="464.9" cy="159.5" r="1.0" fill="#000" stroke="none" stroke-width="1"/>
<circle cx="470.3" cy="156.4" r="1.0" fill="#000" stroke="none" stroke-width="1"/>
<circle cx="475.8" cy="153.2" r="1.0" fill="#000" stroke="none" stroke-width="1"/>
<circle cx="481.3" cy="150.0" r="1.0" fill="#000" stroke="none" stroke-width="1"/>
<circle cx="486.8" cy="146.9" r="1.0" fill="#000" stroke="none" stroke-width="1"/>
<circle cx="465.2" cy="165.8" r="1.0" fill="#000" stroke="none" stroke-width="1"/>
<circle cx="470.6" cy="162.7" r="1.0" fill="#000" stroke="none" stroke-width="1"/>
<circle cx="476.1" cy="159.5" r="1.0" fill="#000" stroke="none" stroke-width="1"/>
<circle cx="481.6" cy="156.3" r="1.0" fill="#000" stroke="none" stroke-width="1"/>
<circle cx="487.0" cy="153.1" r="1.0" fill="#000" stroke="none" stroke-width="1"/>
<circle cx="492.5" cy="150.0" r="1.0" fill="#000" stroke="none" stroke-width="1"/>
<polygon points="432.3,112.4 434.3,110.6 436.3,112.9 435.3,114.9 433.3,114.2" fill="#222" stroke="#000" stroke-width="0.9" />
<polyline points="500.8,148.7 503.3,151.2 503.8,154.2" fill="none" stroke="#000" stroke-width="1.6" />
<polygon points="394.0,182.8 429.0,162.5 500.5,201.3 503.5,205.3 466.0,225.3 394.0,185.8" fill="#fbfefb" stroke="#000" stroke-width="1.45" />
<polyline points="394.0,182.8 466.0,221.8 500.5,201.3" fill="none" stroke="#000" stroke-width="1.45" />
<polyline points="474.0,219.8 502.5,203.3" fill="none" stroke="#000" stroke-width="0.8" />
<circle cx="402.0" cy="182.6" r="1.0" fill="#000" stroke="none" stroke-width="1"/>
<circle cx="407.5" cy="179.4" r="1.0" fill="#000" stroke="none" stroke-width="1"/>
<circle cx="412.9" cy="176.3" r="1.0" fill="#000" stroke="none" stroke-width="1"/>
<circle cx="418.4" cy="173.1" r="1.0" fill="#000" stroke="none" stroke-width="1"/>
<circle cx="423.9" cy="169.9" r="1.0" fill="#000" stroke="none" stroke-width="1"/>
<circle cx="429.4" cy="166.8" r="1.0" fill="#000" stroke="none" stroke-width="1"/>
<circle cx="407.8" cy="185.7" r="1.0" fill="#000" stroke="none" stroke-width="1"/>
<circle cx="413.2" cy="182.6" r="1.0" fill="#000" stroke="none" stroke-width="1"/>
<circle cx="418.7" cy="179.4" r="1.0" fill="#000" stroke="none" stroke-width="1"/>
<circle cx="424.2" cy="176.2" r="1.0" fill="#000" stroke="none" stroke-width="1"/>
<circle cx="429.6" cy="173.0" r="1.0" fill="#000" stroke="none" stroke-width="1"/>
<circle cx="435.1" cy="169.9" r="1.0" fill="#000" stroke="none" stroke-width="1"/>
<circle cx="413.5" cy="188.9" r="1.0" fill="#000" stroke="none" stroke-width="1"/>
<circle cx="419.0" cy="185.7" r="1.0" fill="#000" stroke="none" stroke-width="1"/>
<circle cx="424.5" cy="182.5" r="1.0" fill="#000" stroke="none" stroke-width="1"/>
<circle cx="429.9" cy="179.3" r="1.0" fill="#000" stroke="none" stroke-width="1"/>
<circle cx="435.4" cy="176.2" r="1.0" fill="#000" stroke="none" stroke-width="1"/>
<circle cx="440.9" cy="173.0" r="1.0" fill="#000" stroke="none" stroke-width="1"/>
<circle cx="419.3" cy="192.0" r="1.0" fill="#000" stroke="none" stroke-width="1"/>
<circle cx="424.8" cy="188.8" r="1.0" fill="#000" stroke="none" stroke-width="1"/>
<circle cx="430.2" cy="185.6" r="1.0" fill="#000" stroke="none" stroke-width="1"/>
<circle cx="435.7" cy="182.5" r="1.0" fill="#000" stroke="none" stroke-width="1"/>
<circle cx="441.2" cy="179.3" r="1.0" fill="#000" stroke="none" stroke-width="1"/>
<circle cx="446.6" cy="176.1" r="1.0" fill="#000" stroke="none" stroke-width="1"/>
<circle cx="425.1" cy="195.1" r="1.0" fill="#000" stroke="none" stroke-width="1"/>
<circle cx="430.5" cy="191.9" r="1.0" fill="#000" stroke="none" stroke-width="1"/>
<circle cx="436.0" cy="188.7" r="1.0" fill="#000" stroke="none" stroke-width="1"/>
<circle cx="441.5" cy="185.6" r="1.0" fill="#000" stroke="none" stroke-width="1"/>
<circle cx="446.9" cy="182.4" r="1.0" fill="#000" stroke="none" stroke-width="1"/>
<circle cx="452.4" cy="179.2" r="1.0" fill="#000" stroke="none" stroke-width="1"/>
<circle cx="430.8" cy="198.2" r="1.0" fill="#000" stroke="none" stroke-width="1"/>
<circle cx="436.3" cy="195.0" r="1.0" fill="#000" stroke="none" stroke-width="1"/>
<circle cx="441.7" cy="191.9" r="1.0" fill="#000" stroke="none" stroke-width="1"/>
<circle cx="447.2" cy="188.7" r="1.0" fill="#000" stroke="none" stroke-width="1"/>
<circle cx="452.7" cy="185.5" r="1.0" fill="#000" stroke="none" stroke-width="1"/>
<circle cx="458.2" cy="182.4" r="1.0" fill="#000" stroke="none" stroke-width="1"/>
<circle cx="436.6" cy="201.3" r="1.0" fill="#000" stroke="none" stroke-width="1"/>
<circle cx="442.0" cy="198.2" r="1.0" fill="#000" stroke="none" stroke-width="1"/>
<circle cx="447.5" cy="195.0" r="1.0" fill="#000" stroke="none" stroke-width="1"/>
<circle cx="453.0" cy="191.8" r="1.0" fill="#000" stroke="none" stroke-width="1"/>
<circle cx="458.4" cy="188.6" r="1.0" fill="#000" stroke="none" stroke-width="1"/>
<circle cx="463.9" cy="185.5" r="1.0" fill="#000" stroke="none" stroke-width="1"/>
<circle cx="442.3" cy="204.5" r="1.0" fill="#000" stroke="none" stroke-width="1"/>
<circle cx="447.8" cy="201.3" r="1.0" fill="#000" stroke="none" stroke-width="1"/>
<circle cx="453.3" cy="198.1" r="1.0" fill="#000" stroke="none" stroke-width="1"/>
<circle cx="458.7" cy="194.9" r="1.0" fill="#000" stroke="none" stroke-width="1"/>
<circle cx="464.2" cy="191.8" r="1.0" fill="#000" stroke="none" stroke-width="1"/>
<circle cx="469.7" cy="188.6" r="1.0" fill="#000" stroke="none" stroke-width="1"/>
<circle cx="448.1" cy="207.6" r="1.0" fill="#000" stroke="none" stroke-width="1"/>
<circle cx="453.6" cy="204.4" r="1.0" fill="#000" stroke="none" stroke-width="1"/>
<circle cx="459.0" cy="201.2" r="1.0" fill="#000" stroke="none" stroke-width="1"/>
<circle cx="464.5" cy="198.1" r="1.0" fill="#000" stroke="none" stroke-width="1"/>
<circle cx="470.0" cy="194.9" r="1.0" fill="#000" stroke="none" stroke-width="1"/>
<circle cx="475.4" cy="191.7" r="1.0" fill="#000" stroke="none" stroke-width="1"/>
<circle cx="453.9" cy="210.7" r="1.0" fill="#000" stroke="none" stroke-width="1"/>
<circle cx="459.3" cy="207.5" r="1.0" fill="#000" stroke="none" stroke-width="1"/>
<circle cx="464.8" cy="204.3" r="1.0" fill="#000" stroke="none" stroke-width="1"/>
<circle cx="470.3" cy="201.2" r="1.0" fill="#000" stroke="none" stroke-width="1"/>
<circle cx="475.7" cy="198.0" r="1.0" fill="#000" stroke="none" stroke-width="1"/>
<circle cx="481.2" cy="194.8" r="1.0" fill="#000" stroke="none" stroke-width="1"/>
<circle cx="459.6" cy="213.8" r="1.0" fill="#000" stroke="none" stroke-width="1"/>
<circle cx="465.1" cy="210.6" r="1.0" fill="#000" stroke="none" stroke-width="1"/>
<circle cx="470.5" cy="207.5" r="1.0" fill="#000" stroke="none" stroke-width="1"/>
<circle cx="476.0" cy="204.3" r="1.0" fill="#000" stroke="none" stroke-width="1"/>
<circle cx="481.5" cy="201.1" r="1.0" fill="#000" stroke="none" stroke-width="1"/>
<circle cx="487.0" cy="198.0" r="1.0" fill="#000" stroke="none" stroke-width="1"/>
<circle cx="465.4" cy="216.9" r="1.0" fill="#000" stroke="none" stroke-width="1"/>
<circle cx="470.8" cy="213.8" r="1.0" fill="#000" stroke="none" stroke-width="1"/>
<circle cx="476.3" cy="210.6" r="1.0" fill="#000" stroke="none" stroke-width="1"/>
<circle cx="481.8" cy="207.4" r="1.0" fill="#000" stroke="none" stroke-width="1"/>
<circle cx="487.2" cy="204.2" r="1.0" fill="#000" stroke="none" stroke-width="1"/>
<circle cx="492.7" cy="201.1" r="1.0" fill="#000" stroke="none" stroke-width="1"/>
<polygon points="432.5,163.5 434.5,161.7 436.5,164.0 435.5,166.0 433.5,165.3" fill="#222" stroke="#000" stroke-width="0.9" />
<polyline points="501.0,199.8 503.5,202.3 504.0,205.3" fill="none" stroke="#000" stroke-width="1.6" />
<polygon points="394.2,232.5 429.2,212.2 500.7,251.0 503.7,255.0 466.2,275.0 394.2,235.5" fill="#fbfefb" stroke="#000" stroke-width="1.45" />
<polyline points="394.2,232.5 466.2,271.5 500.7,251.0" fill="none" stroke="#000" stroke-width="1.45" />
<polyline points="474.2,269.5 502.7,253.0" fill="none" stroke="#000" stroke-width="0.8" />
<circle cx="402.2" cy="232.3" r="1.0" fill="#000" stroke="none" stroke-width="1"/>
<circle cx="407.7" cy="229.1" r="1.0" fill="#000" stroke="none" stroke-width="1"/>
<circle cx="413.1" cy="226.0" r="1.0" fill="#000" stroke="none" stroke-width="1"/>
<circle cx="418.6" cy="222.8" r="1.0" fill="#000" stroke="none" stroke-width="1"/>
<circle cx="424.1" cy="219.6" r="1.0" fill="#000" stroke="none" stroke-width="1"/>
<circle cx="429.6" cy="216.5" r="1.0" fill="#000" stroke="none" stroke-width="1"/>
<circle cx="408.0" cy="235.4" r="1.0" fill="#000" stroke="none" stroke-width="1"/>
<circle cx="413.4" cy="232.3" r="1.0" fill="#000" stroke="none" stroke-width="1"/>
<circle cx="418.9" cy="229.1" r="1.0" fill="#000" stroke="none" stroke-width="1"/>
<circle cx="424.4" cy="225.9" r="1.0" fill="#000" stroke="none" stroke-width="1"/>
<circle cx="429.8" cy="222.7" r="1.0" fill="#000" stroke="none" stroke-width="1"/>
<circle cx="435.3" cy="219.6" r="1.0" fill="#000" stroke="none" stroke-width="1"/>
<circle cx="413.7" cy="238.6" r="1.0" fill="#000" stroke="none" stroke-width="1"/>
<circle cx="419.2" cy="235.4" r="1.0" fill="#000" stroke="none" stroke-width="1"/>
<circle cx="424.7" cy="232.2" r="1.0" fill="#000" stroke="none" stroke-width="1"/>
<circle cx="430.1" cy="229.0" r="1.0" fill="#000" stroke="none" stroke-width="1"/>
<circle cx="435.6" cy="225.9" r="1.0" fill="#000" stroke="none" stroke-width="1"/>
<circle cx="441.1" cy="222.7" r="1.0" fill="#000" stroke="none" stroke-width="1"/>
<circle cx="419.5" cy="241.7" r="1.0" fill="#000" stroke="none" stroke-width="1"/>
<circle cx="425.0" cy="238.5" r="1.0" fill="#000" stroke="none" stroke-width="1"/>
<circle cx="430.4" cy="235.3" r="1.0" fill="#000" stroke="none" stroke-width="1"/>
<circle cx="435.9" cy="232.2" r="1.0" fill="#000" stroke="none" stroke-width="1"/>
<circle cx="441.4" cy="229.0" r="1.0" fill="#000" stroke="none" stroke-width="1"/>
<circle cx="446.8" cy="225.8" r="1.0" fill="#000" stroke="none" stroke-width="1"/>
<circle cx="425.3" cy="244.8" r="1.0" fill="#000" stroke="none" stroke-width="1"/>
<circle cx="430.7" cy="241.6" r="1.0" fill="#000" stroke="none" stroke-width="1"/>
<circle cx="436.2" cy="238.4" r="1.0" fill="#000" stroke="none" stroke-width="1"/>
<circle cx="441.7" cy="235.3" r="1.0" fill="#000" stroke="none" stroke-width="1"/>
<circle cx="447.1" cy="232.1" r="1.0" fill="#000" stroke="none" stroke-width="1"/>
<circle cx="452.6" cy="228.9" r="1.0" fill="#000" stroke="none" stroke-width="1"/>
<circle cx="431.0" cy="247.9" r="1.0" fill="#000" stroke="none" stroke-width="1"/>
<circle cx="436.5" cy="244.7" r="1.0" fill="#000" stroke="none" stroke-width="1"/>
<circle cx="441.9" cy="241.6" r="1.0" fill="#000" stroke="none" stroke-width="1"/>
<circle cx="447.4" cy="238.4" r="1.0" fill="#000" stroke="none" stroke-width="1"/>
<circle cx="452.9" cy="235.2" r="1.0" fill="#000" stroke="none" stroke-width="1"/>
<circle cx="458.4" cy="232.1" r="1.0" fill="#000" stroke="none" stroke-width="1"/>
<circle cx="436.8" cy="251.0" r="1.0" fill="#000" stroke="none" stroke-width="1"/>
<circle cx="442.2" cy="247.9" r="1.0" fill="#000" stroke="none" stroke-width="1"/>
<circle cx="447.7" cy="244.7" r="1.0" fill="#000" stroke="none" stroke-width="1"/>
<circle cx="453.2" cy="241.5" r="1.0" fill="#000" stroke="none" stroke-width="1"/>
<circle cx="458.6" cy="238.3" r="1.0" fill="#000" stroke="none" stroke-width="1"/>
<circle cx="464.1" cy="235.2" r="1.0" fill="#000" stroke="none" stroke-width="1"/>
<circle cx="442.5" cy="254.2" r="1.0" fill="#000" stroke="none" stroke-width="1"/>
<circle cx="448.0" cy="251.0" r="1.0" fill="#000" stroke="none" stroke-width="1"/>
<circle cx="453.5" cy="247.8" r="1.0" fill="#000" stroke="none" stroke-width="1"/>
<circle cx="458.9" cy="244.6" r="1.0" fill="#000" stroke="none" stroke-width="1"/>
<circle cx="464.4" cy="241.5" r="1.0" fill="#000" stroke="none" stroke-width="1"/>
<circle cx="469.9" cy="238.3" r="1.0" fill="#000" stroke="none" stroke-width="1"/>
<circle cx="448.3" cy="257.3" r="1.0" fill="#000" stroke="none" stroke-width="1"/>
<circle cx="453.8" cy="254.1" r="1.0" fill="#000" stroke="none" stroke-width="1"/>
<circle cx="459.2" cy="250.9" r="1.0" fill="#000" stroke="none" stroke-width="1"/>
<circle cx="464.7" cy="247.8" r="1.0" fill="#000" stroke="none" stroke-width="1"/>
<circle cx="470.2" cy="244.6" r="1.0" fill="#000" stroke="none" stroke-width="1"/>
<circle cx="475.6" cy="241.4" r="1.0" fill="#000" stroke="none" stroke-width="1"/>
<circle cx="454.1" cy="260.4" r="1.0" fill="#000" stroke="none" stroke-width="1"/>
<circle cx="459.5" cy="257.2" r="1.0" fill="#000" stroke="none" stroke-width="1"/>
<circle cx="465.0" cy="254.0" r="1.0" fill="#000" stroke="none" stroke-width="1"/>
<circle cx="470.5" cy="250.9" r="1.0" fill="#000" stroke="none" stroke-width="1"/>
<circle cx="475.9" cy="247.7" r="1.0" fill="#000" stroke="none" stroke-width="1"/>
<circle cx="481.4" cy="244.5" r="1.0" fill="#000" stroke="none" stroke-width="1"/>
<circle cx="459.8" cy="263.5" r="1.0" fill="#000" stroke="none" stroke-width="1"/>
<circle cx="465.3" cy="260.3" r="1.0" fill="#000" stroke="none" stroke-width="1"/>
<circle cx="470.7" cy="257.2" r="1.0" fill="#000" stroke="none" stroke-width="1"/>
<circle cx="476.2" cy="254.0" r="1.0" fill="#000" stroke="none" stroke-width="1"/>
<circle cx="481.7" cy="250.8" r="1.0" fill="#000" stroke="none" stroke-width="1"/>
<circle cx="487.2" cy="247.7" r="1.0" fill="#000" stroke="none" stroke-width="1"/>
<circle cx="465.6" cy="266.6" r="1.0" fill="#000" stroke="none" stroke-width="1"/>
<circle cx="471.0" cy="263.5" r="1.0" fill="#000" stroke="none" stroke-width="1"/>
<circle cx="476.5" cy="260.3" r="1.0" fill="#000" stroke="none" stroke-width="1"/>
<circle cx="482.0" cy="257.1" r="1.0" fill="#000" stroke="none" stroke-width="1"/>
<circle cx="487.4" cy="253.9" r="1.0" fill="#000" stroke="none" stroke-width="1"/>
<circle cx="492.9" cy="250.8" r="1.0" fill="#000" stroke="none" stroke-width="1"/>
<polygon points="432.7,213.2 434.7,211.4 436.7,213.7 435.7,215.7 433.7,215.0" fill="#222" stroke="#000" stroke-width="0.9" />
<polyline points="501.2,249.5 503.7,252.0 504.2,255.0" fill="none" stroke="#000" stroke-width="1.6" />
<path d="M390.8,267 Q391.5,262.5 393.5,262.5 Q395.5,263 395.5,267 Z" fill="#777" stroke="#000" stroke-width="1.3"/>
<line x1="395.5" y1="267.0" x2="408.5" y2="269.5" stroke="#000" stroke-width="0.9" />
<line x1="430.5" y1="277.5" x2="442.0" y2="292.5" stroke="#000" stroke-width="0.9" />
<path d="M441,297 Q441.5,292.5 443.8,292.5 Q446.3,293 446.5,297 Z" fill="#444" stroke="#000" stroke-width="1.3"/>
<polygon points="365.8,306.9 401.5,287.3 478.8,328.8 479.0,331.5 439.6,350.3 366.0,309.6" fill="#fbfefb" stroke="#000" stroke-width="1.45" />
<polyline points="365.8,306.9 439.6,347.3 478.8,328.8" fill="none" stroke="#000" stroke-width="1.45" />
<polygon points="386.5,299.5 410.0,289.5 412.0,294.0 388.5,304.0" fill="#fbfefb" stroke="#000" stroke-width="1.1" />
<polygon points="438.0,333.0 462.0,321.5 464.0,326.0 440.0,337.5" fill="#fbfefb" stroke="#000" stroke-width="1.1" />
<circle cx="373.9" cy="307.1" r="0.95" fill="#000" stroke="none" stroke-width="1"/>
<circle cx="379.6" cy="303.9" r="0.95" fill="#000" stroke="none" stroke-width="1"/>
<circle cx="385.2" cy="300.8" r="0.95" fill="#000" stroke="none" stroke-width="1"/>
<circle cx="390.9" cy="297.7" r="0.95" fill="#000" stroke="none" stroke-width="1"/>
<circle cx="396.6" cy="294.6" r="0.95" fill="#000" stroke="none" stroke-width="1"/>
<circle cx="402.2" cy="291.5" r="0.95" fill="#000" stroke="none" stroke-width="1"/>
<circle cx="380.0" cy="310.4" r="0.95" fill="#000" stroke="none" stroke-width="1"/>
<circle cx="385.7" cy="307.3" r="0.95" fill="#000" stroke="none" stroke-width="1"/>
<circle cx="386.2" cy="313.8" r="0.95" fill="#000" stroke="none" stroke-width="1"/>
<circle cx="391.9" cy="310.7" r="0.95" fill="#000" stroke="none" stroke-width="1"/>
<circle cx="397.5" cy="307.6" r="0.95" fill="#000" stroke="none" stroke-width="1"/>
<circle cx="403.2" cy="304.5" r="0.95" fill="#000" stroke="none" stroke-width="1"/>
<circle cx="408.9" cy="301.3" r="0.95" fill="#000" stroke="none" stroke-width="1"/>
<circle cx="414.5" cy="298.2" r="0.95" fill="#000" stroke="none" stroke-width="1"/>
<circle cx="392.3" cy="317.2" r="0.95" fill="#000" stroke="none" stroke-width="1"/>
<circle cx="398.0" cy="314.0" r="0.95" fill="#000" stroke="none" stroke-width="1"/>
<circle cx="403.7" cy="310.9" r="0.95" fill="#000" stroke="none" stroke-width="1"/>
<circle cx="409.3" cy="307.8" r="0.95" fill="#000" stroke="none" stroke-width="1"/>
<circle cx="415.0" cy="304.7" r="0.95" fill="#000" stroke="none" stroke-width="1"/>
<circle cx="420.7" cy="301.6" r="0.95" fill="#000" stroke="none" stroke-width="1"/>
<circle cx="398.5" cy="320.5" r="0.95" fill="#000" stroke="none" stroke-width="1"/>
<circle cx="404.2" cy="317.4" r="0.95" fill="#000" stroke="none" stroke-width="1"/>
<circle cx="409.8" cy="314.3" r="0.95" fill="#000" stroke="none" stroke-width="1"/>
<circle cx="415.5" cy="311.2" r="0.95" fill="#000" stroke="none" stroke-width="1"/>
<circle cx="421.2" cy="308.1" r="0.95" fill="#000" stroke="none" stroke-width="1"/>
<circle cx="426.8" cy="305.0" r="0.95" fill="#000" stroke="none" stroke-width="1"/>
<circle cx="404.6" cy="323.9" r="0.95" fill="#000" stroke="none" stroke-width="1"/>
<circle cx="410.3" cy="320.8" r="0.95" fill="#000" stroke="none" stroke-width="1"/>
<circle cx="416.0" cy="317.7" r="0.95" fill="#000" stroke="none" stroke-width="1"/>
<circle cx="421.6" cy="314.6" r="0.95" fill="#000" stroke="none" stroke-width="1"/>
<circle cx="427.3" cy="311.4" r="0.95" fill="#000" stroke="none" stroke-width="1"/>
<circle cx="433.0" cy="308.3" r="0.95" fill="#000" stroke="none" stroke-width="1"/>
<circle cx="410.8" cy="327.3" r="0.95" fill="#000" stroke="none" stroke-width="1"/>
<circle cx="416.5" cy="324.1" r="0.95" fill="#000" stroke="none" stroke-width="1"/>
<circle cx="422.1" cy="321.0" r="0.95" fill="#000" stroke="none" stroke-width="1"/>
<circle cx="427.8" cy="317.9" r="0.95" fill="#000" stroke="none" stroke-width="1"/>
<circle cx="433.5" cy="314.8" r="0.95" fill="#000" stroke="none" stroke-width="1"/>
<circle cx="439.1" cy="311.7" r="0.95" fill="#000" stroke="none" stroke-width="1"/>
<circle cx="416.9" cy="330.6" r="0.95" fill="#000" stroke="none" stroke-width="1"/>
<circle cx="422.6" cy="327.5" r="0.95" fill="#000" stroke="none" stroke-width="1"/>
<circle cx="428.3" cy="324.4" r="0.95" fill="#000" stroke="none" stroke-width="1"/>
<circle cx="433.9" cy="321.3" r="0.95" fill="#000" stroke="none" stroke-width="1"/>
<circle cx="439.6" cy="318.2" r="0.95" fill="#000" stroke="none" stroke-width="1"/>
<circle cx="445.3" cy="315.1" r="0.95" fill="#000" stroke="none" stroke-width="1"/>
<circle cx="423.1" cy="334.0" r="0.95" fill="#000" stroke="none" stroke-width="1"/>
<circle cx="428.8" cy="330.9" r="0.95" fill="#000" stroke="none" stroke-width="1"/>
<circle cx="434.4" cy="327.8" r="0.95" fill="#000" stroke="none" stroke-width="1"/>
<circle cx="440.1" cy="324.7" r="0.95" fill="#000" stroke="none" stroke-width="1"/>
<circle cx="445.8" cy="321.5" r="0.95" fill="#000" stroke="none" stroke-width="1"/>
<circle cx="451.4" cy="318.4" r="0.95" fill="#000" stroke="none" stroke-width="1"/>
<circle cx="429.2" cy="337.4" r="0.95" fill="#000" stroke="none" stroke-width="1"/>
<circle cx="434.9" cy="334.2" r="0.95" fill="#000" stroke="none" stroke-width="1"/>
<circle cx="440.6" cy="331.1" r="0.95" fill="#000" stroke="none" stroke-width="1"/>
<circle cx="446.2" cy="328.0" r="0.95" fill="#000" stroke="none" stroke-width="1"/>
<circle cx="451.9" cy="324.9" r="0.95" fill="#000" stroke="none" stroke-width="1"/>
<circle cx="457.6" cy="321.8" r="0.95" fill="#000" stroke="none" stroke-width="1"/>
<circle cx="435.4" cy="340.7" r="0.95" fill="#000" stroke="none" stroke-width="1"/>
<circle cx="441.5" cy="344.1" r="0.95" fill="#000" stroke="none" stroke-width="1"/>
<circle cx="447.2" cy="341.0" r="0.95" fill="#000" stroke="none" stroke-width="1"/>
<circle cx="452.9" cy="337.9" r="0.95" fill="#000" stroke="none" stroke-width="1"/>
<circle cx="458.5" cy="334.8" r="0.95" fill="#000" stroke="none" stroke-width="1"/>
<circle cx="464.2" cy="331.6" r="0.95" fill="#000" stroke="none" stroke-width="1"/>
<circle cx="469.9" cy="328.5" r="0.95" fill="#000" stroke="none" stroke-width="1"/>
<polygon points="407.0,287.5 409.5,285.5 411.5,287.0 410.5,290.0 408.0,290.0" fill="#111" stroke="#000" stroke-width="0.9" />
<polygon points="473.5,325.5 476.0,323.5 478.0,325.0 477.0,328.0 474.5,328.0" fill="#111" stroke="#000" stroke-width="0.9" />
<polyline points="446.0,343.5 478.0,328.5" fill="none" stroke="#000" stroke-width="0.9" />
<polyline points="478.0,328.5 479.0,331.5" fill="none" stroke="#000" stroke-width="1.2" />
<line x1="382.0" y1="305.0" x2="384.0" y2="302.0" stroke="#000" stroke-width="0.8" />
<polygon points="522.2,116.0 524.6,114.2 532.6,117.5 532.6,337.0 529.0,337.5 522.7,332.3" fill="#fbfefb" stroke="#000" stroke-width="1.3" />
<polyline points="525.7,115.5 525.7,334.0" fill="none" stroke="#000" stroke-width="1.3" />
<polyline points="529.7,118.0 529.7,336.5" fill="none" stroke="#888" stroke-width="1.6" />
<polygon points="525.7,139.5 529.0,140.5 529.0,144.5 525.7,143.5" fill="#fbfefb" stroke="#000" stroke-width="1.0" />
<polygon points="525.7,183.0 529.0,184.0 529.0,188.0 525.7,187.0" fill="#fbfefb" stroke="#000" stroke-width="1.0" />
<polygon points="525.7,227.0 529.0,228.0 529.0,232.0 525.7,231.0" fill="#fbfefb" stroke="#000" stroke-width="1.0" />
<polygon points="525.7,301.5 529.0,302.5 529.0,306.5 525.7,305.5" fill="#fbfefb" stroke="#000" stroke-width="1.0" />
<polygon points="563.5,139.6 566.0,138.0 573.7,142.0 573.7,361.5 570.5,360.0 564.2,358.5" fill="#fbfefb" stroke="#000" stroke-width="1.3" />
<polyline points="566.5,140.0 566.5,357.0" fill="none" stroke="#000" stroke-width="1.2" />
<polygon points="570.5,143.0 573.7,142.5 573.7,361.0 570.5,360.0" fill="#bbb" stroke="#444" stroke-width="0.9" />
<polygon points="566.5,160.0 569.5,161.0 569.5,164.5 566.5,163.5" fill="#fbfefb" stroke="#000" stroke-width="0.9" />
<polygon points="566.5,204.0 569.5,205.0 569.5,208.5 566.5,207.5" fill="#fbfefb" stroke="#000" stroke-width="0.9" />
<polygon points="566.5,245.5 569.5,246.5 569.5,250.0 566.5,249.0" fill="#fbfefb" stroke="#000" stroke-width="0.9" />
<polygon points="566.5,324.0 569.5,325.0 569.5,328.5 566.5,327.5" fill="#fbfefb" stroke="#000" stroke-width="0.9" />
<line x1="564.5" y1="325.0" x2="566.0" y2="328.0" stroke="#000" stroke-width="0.8" />
<line x1="564.0" y1="155.0" x2="566.5" y2="158.0" stroke="#000" stroke-width="0.9" />
<polygon points="351.7,267.4 356.0,266.0 373.8,253.2 374.5,253.2 375.0,286.5 354.8,298.8 353.0,296.3" fill="#fbfefb" stroke="#000" stroke-width="1.45" />
<polyline points="356.0,266.0 356.0,298.0" fill="none" stroke="#000" stroke-width="0.9" />
<polyline points="353.5,268.5 354.5,296.0" fill="none" stroke="#000" stroke-width="0.7" />
<polyline points="359.0,294.0 371.4,288.3" fill="none" stroke="#000" stroke-width="0.9" />
<polygon points="480.5,343.0 500.5,329.5 501.0,362.0 484.0,371.5 479.0,372.5" fill="#fbfefb" stroke="#000" stroke-width="0" />
<polyline points="480.5,343.0 500.5,329.5 501.0,362.0 484.0,371.5" fill="none" stroke="#000" stroke-width="1.3" />
<polyline points="480.8,344.0 480.8,371.5" fill="none" stroke="#666" stroke-width="0.8" />
<polyline points="484.0,341.5 484.0,371.5" fill="none" stroke="#000" stroke-width="1.3" />
<polyline points="478.5,372.5 484.0,371.5" fill="none" stroke="#000" stroke-width="1.6" />
<polygon points="356.0,317.6 358.5,315.4 361.2,315.0 362.2,317.2 361.8,320.4 359.0,322.6 357.4,321.0" fill="#999" stroke="#000" stroke-width="1.2" />
<line x1="358.2" y1="316.5" x2="358.6" y2="321.5" stroke="#000" stroke-width="0.9" />
<circle cx="360.2" cy="317.8" r="0.6" fill="#fbfefb" stroke="none" stroke-width="1"/>
<polygon points="338.0,329.1 340.5,326.9 343.2,326.5 344.2,328.7 343.8,331.9 341.0,334.1 339.4,332.5" fill="#999" stroke="#000" stroke-width="1.2" />
<line x1="340.2" y1="328.0" x2="340.6" y2="333.0" stroke="#000" stroke-width="0.9" />
<circle cx="342.2" cy="329.3" r="0.6" fill="#fbfefb" stroke="none" stroke-width="1"/>
<polygon points="412.0,373.6 414.5,371.4 417.2,371.0 418.2,373.2 417.8,376.4 415.0,378.6 413.4,377.0" fill="#999" stroke="#000" stroke-width="1.2" />
<line x1="414.2" y1="372.5" x2="414.6" y2="377.5" stroke="#000" stroke-width="0.9" />
<circle cx="416.2" cy="373.8" r="0.6" fill="#fbfefb" stroke="none" stroke-width="1"/>
<polygon points="498.0,399.6 500.5,397.4 503.2,397.0 504.2,399.2 503.8,402.4 501.0,404.6 499.4,403.0" fill="#999" stroke="#000" stroke-width="1.2" />
<line x1="500.2" y1="398.5" x2="500.6" y2="403.5" stroke="#000" stroke-width="0.9" />
<circle cx="502.2" cy="399.8" r="0.6" fill="#fbfefb" stroke="none" stroke-width="1"/>
<polygon points="527.0,428.1 529.5,425.9 532.2,425.5 533.2,427.7 532.8,430.9 530.0,433.1 528.4,431.5" fill="#999" stroke="#000" stroke-width="1.2" />
<line x1="529.2" y1="427.0" x2="529.6" y2="432.0" stroke="#000" stroke-width="0.9" />
<circle cx="531.2" cy="428.3" r="0.6" fill="#fbfefb" stroke="none" stroke-width="1"/>
<polygon points="487.0,450.6 489.5,448.4 492.2,448.0 493.2,450.2 492.8,453.4 490.0,455.6 488.4,454.0" fill="#999" stroke="#000" stroke-width="1.2" />
<line x1="489.2" y1="449.5" x2="489.6" y2="454.5" stroke="#000" stroke-width="0.9" />
<circle cx="491.2" cy="450.8" r="0.6" fill="#fbfefb" stroke="none" stroke-width="1"/>
<polygon points="571.0,445.6 573.5,443.4 576.2,443.0 577.2,445.2 576.8,448.4 574.0,450.6 572.4,449.0" fill="#999" stroke="#000" stroke-width="1.2" />
<line x1="573.2" y1="444.5" x2="573.6" y2="449.5" stroke="#000" stroke-width="0.9" />
<circle cx="575.2" cy="445.8" r="0.6" fill="#fbfefb" stroke="none" stroke-width="1"/>
<polygon points="588.5,471.6 591.0,469.4 593.7,469.0 594.7,471.2 594.3,474.4 591.5,476.6 589.9,475.0" fill="#999" stroke="#000" stroke-width="1.2" />
<line x1="590.7" y1="470.5" x2="591.1" y2="475.5" stroke="#000" stroke-width="0.9" />
<circle cx="592.7" cy="471.8" r="0.6" fill="#fbfefb" stroke="none" stroke-width="1"/>
<polygon points="554.0,492.1 556.5,489.9 559.2,489.5 560.2,491.7 559.8,494.9 557.0,497.1 555.4,495.5" fill="#999" stroke="#000" stroke-width="1.2" />
<line x1="556.2" y1="491.0" x2="556.6" y2="496.0" stroke="#000" stroke-width="0.9" />
<circle cx="558.2" cy="492.3" r="0.6" fill="#fbfefb" stroke="none" stroke-width="1"/>
<polygon points="433.5,361.6 436.0,359.4 438.7,359.0 439.7,361.2 439.3,364.4 436.5,366.6 434.9,365.0" fill="#999" stroke="#000" stroke-width="1.2" />
<line x1="435.7" y1="360.5" x2="436.1" y2="365.5" stroke="#000" stroke-width="0.9" />
<circle cx="437.7" cy="361.8" r="0.6" fill="#fbfefb" stroke="none" stroke-width="1"/>
<polygon points="519.3,389.0 521.9,385.6 524.8,385.0 525.8,388.4 525.4,393.3 522.4,396.7 520.8,394.3" fill="#999" stroke="#000" stroke-width="1.2" />
<line x1="521.6" y1="387.3" x2="522.0" y2="395.0" stroke="#000" stroke-width="0.9" />
<circle cx="523.7" cy="389.3" r="0.6" fill="#fbfefb" stroke="none" stroke-width="1"/>
<polygon points="590.8,432.8 593.4,429.6 596.3,429.0 597.3,432.2 596.9,436.9 593.9,440.1 592.3,437.7" fill="#999" stroke="#000" stroke-width="1.2" />
<line x1="593.1" y1="431.2" x2="593.5" y2="438.5" stroke="#000" stroke-width="0.9" />
<circle cx="595.2" cy="433.1" r="0.6" fill="#fbfefb" stroke="none" stroke-width="1"/>
<polygon points="314.5,362.1 341.8,345.8 340.5,343.6 313.1,359.9" fill="#333" stroke="#000" stroke-width="0.9" />
<polygon points="342.0,346.2 367.0,331.3 365.2,328.4 340.3,343.2" fill="#222" stroke="#000" stroke-width="1.0" />
<polyline points="318.7,358.1 338.1,346.5" fill="none" stroke="#ccc" stroke-width="0.8" />
<polyline points="344.2,342.9 350.3,339.3" fill="none" stroke="#ccc" stroke-width="0.8" />
<polyline points="353.9,337.1 362.4,332.0" fill="none" stroke="#ccc" stroke-width="0.8" />
<polygon points="367.3,331.8 375.8,326.8 373.4,322.8 364.9,327.9" fill="#fbfefb" stroke="#000" stroke-width="1.2" />
<line x1="366.5" y1="327.8" x2="369.5" y2="329.7" stroke="#000" stroke-width="0.8" />
<line x1="369.1" y1="326.2" x2="372.2" y2="328.1" stroke="#000" stroke-width="0.8" />
<line x1="371.8" y1="324.6" x2="374.8" y2="326.5" stroke="#000" stroke-width="0.8" />
<polygon points="387.7,408.1 416.0,391.5 414.7,389.2 386.3,405.9" fill="#333" stroke="#000" stroke-width="0.9" />
<polygon points="416.2,391.8 442.0,376.6 440.3,373.7 414.5,388.9" fill="#222" stroke="#000" stroke-width="1.0" />
<polyline points="392.0,404.0 412.2,392.2" fill="none" stroke="#ccc" stroke-width="0.8" />
<polyline points="418.5,388.5 424.8,384.8" fill="none" stroke="#ccc" stroke-width="0.8" />
<polyline points="428.6,382.6 437.4,377.4" fill="none" stroke="#ccc" stroke-width="0.8" />
<polygon points="442.3,377.2 451.2,372.0 448.8,368.0 440.0,373.2" fill="#fbfefb" stroke="#000" stroke-width="1.2" />
<line x1="441.7" y1="373.0" x2="444.7" y2="375.0" stroke="#000" stroke-width="0.8" />
<line x1="444.4" y1="371.4" x2="447.4" y2="373.4" stroke="#000" stroke-width="0.8" />
<line x1="447.1" y1="369.8" x2="450.1" y2="371.8" stroke="#000" stroke-width="0.8" />
<polygon points="474.4,434.3 501.5,418.1 500.3,416.0 473.2,432.3" fill="#333" stroke="#000" stroke-width="0.9" />
<polyline points="477.4,431.1 498.5,418.5" fill="none" stroke="#aaa" stroke-width="0.5" />
<polygon points="502.0,418.9 512.3,412.8 510.0,409.0 499.8,415.2" fill="#fbfefb" stroke="#000" stroke-width="1.3" />
<polyline points="500.9,417.1 511.1,410.9" fill="none" stroke="#000" stroke-width="1.2" />
<polygon points="512.0,412.5 528.9,402.4 527.1,399.3 510.2,409.4" fill="#fbfefb" stroke="#000" stroke-width="1.2" />
<polygon points="529.2,402.9 535.2,399.3 532.8,395.1 526.7,398.8" fill="#fbfefb" stroke="#000" stroke-width="1.2" />
<line x1="511.5" y1="409.3" x2="514.1" y2="410.5" stroke="#000" stroke-width="0.7" />
<line x1="514.9" y1="407.3" x2="517.5" y2="408.5" stroke="#000" stroke-width="0.7" />
<line x1="518.2" y1="405.2" x2="520.9" y2="406.5" stroke="#000" stroke-width="0.7" />
<line x1="521.6" y1="403.2" x2="524.2" y2="404.5" stroke="#000" stroke-width="0.7" />
<line x1="525.0" y1="401.2" x2="527.6" y2="402.4" stroke="#000" stroke-width="0.7" />
<line x1="528.0" y1="398.9" x2="531.0" y2="400.9" stroke="#000" stroke-width="0.8" />
<line x1="529.8" y1="397.9" x2="532.8" y2="399.8" stroke="#000" stroke-width="0.8" />
<line x1="531.6" y1="396.8" x2="534.6" y2="398.7" stroke="#000" stroke-width="0.8" />
<polygon points="457.6,485.0 493.2,463.9 491.9,461.8 456.4,483.0" fill="#333" stroke="#000" stroke-width="0.9" />
<polyline points="461.7,481.2 489.4,464.7" fill="none" stroke="#aaa" stroke-width="0.5" />
<polygon points="493.7,464.7 507.1,456.8 504.9,453.0 491.4,461.0" fill="#fbfefb" stroke="#000" stroke-width="1.3" />
<polyline points="492.6,462.9 506.0,454.9" fill="none" stroke="#000" stroke-width="1.2" />
<polygon points="506.9,456.4 529.0,443.2 527.2,440.2 505.1,453.3" fill="#fbfefb" stroke="#000" stroke-width="1.2" />
<polygon points="529.3,443.8 537.2,439.1 534.8,434.9 526.9,439.6" fill="#fbfefb" stroke="#000" stroke-width="1.2" />
<line x1="506.3" y1="453.3" x2="508.9" y2="454.5" stroke="#000" stroke-width="0.7" />
<line x1="509.4" y1="451.4" x2="512.0" y2="452.7" stroke="#000" stroke-width="0.7" />
<line x1="512.6" y1="449.5" x2="515.2" y2="450.8" stroke="#000" stroke-width="0.7" />
<line x1="515.7" y1="447.7" x2="518.3" y2="448.9" stroke="#000" stroke-width="0.7" />
<line x1="518.9" y1="445.8" x2="521.5" y2="447.0" stroke="#000" stroke-width="0.7" />
<line x1="522.1" y1="443.9" x2="524.7" y2="445.1" stroke="#000" stroke-width="0.7" />
<line x1="525.2" y1="442.0" x2="527.8" y2="443.3" stroke="#000" stroke-width="0.7" />
<line x1="528.6" y1="439.6" x2="531.6" y2="441.5" stroke="#000" stroke-width="0.8" />
<line x1="530.9" y1="438.1" x2="534.0" y2="440.1" stroke="#000" stroke-width="0.8" />
<line x1="533.3" y1="436.7" x2="536.3" y2="438.7" stroke="#000" stroke-width="0.8" />
<polygon points="546.6,479.6 575.8,463.2 574.7,461.1 545.4,477.6" fill="#333" stroke="#000" stroke-width="0.9" />
<polyline points="549.9,476.4 572.6,463.6" fill="none" stroke="#aaa" stroke-width="0.5" />
<polygon points="576.3,464.0 587.4,457.8 585.2,454.0 574.2,460.2" fill="#fbfefb" stroke="#000" stroke-width="1.3" />
<polyline points="575.2,462.1 586.3,455.9" fill="none" stroke="#000" stroke-width="1.2" />
<polygon points="587.2,457.5 605.4,447.2 603.6,444.1 585.4,454.3" fill="#fbfefb" stroke="#000" stroke-width="1.2" />
<polygon points="605.7,447.8 612.2,444.1 609.8,439.9 603.3,443.6" fill="#fbfefb" stroke="#000" stroke-width="1.2" />
<line x1="586.8" y1="454.2" x2="589.4" y2="455.5" stroke="#000" stroke-width="0.7" />
<line x1="590.5" y1="452.2" x2="593.0" y2="453.5" stroke="#000" stroke-width="0.7" />
<line x1="594.1" y1="450.1" x2="596.7" y2="451.4" stroke="#000" stroke-width="0.7" />
<line x1="597.8" y1="448.1" x2="600.3" y2="449.4" stroke="#000" stroke-width="0.7" />
<line x1="601.4" y1="446.0" x2="604.0" y2="447.3" stroke="#000" stroke-width="0.7" />
<line x1="604.6" y1="443.7" x2="607.6" y2="445.7" stroke="#000" stroke-width="0.8" />
<line x1="606.6" y1="442.6" x2="609.6" y2="444.6" stroke="#000" stroke-width="0.8" />
<line x1="608.5" y1="441.5" x2="611.5" y2="443.6" stroke="#000" stroke-width="0.8" />
<polygon points="523.2,529.0 561.5,506.3 560.3,504.2 522.0,527.0" fill="#333" stroke="#000" stroke-width="0.9" />
<polyline points="527.7,525.0 557.5,507.3" fill="none" stroke="#aaa" stroke-width="0.5" />
<polygon points="562.0,507.2 576.5,498.6 574.2,494.8 559.8,503.4" fill="#fbfefb" stroke="#000" stroke-width="1.3" />
<polyline points="560.9,505.3 575.4,496.7" fill="none" stroke="#000" stroke-width="1.2" />
<polygon points="576.3,498.2 600.1,484.1 598.3,481.0 574.4,495.1" fill="#fbfefb" stroke="#000" stroke-width="1.2" />
<polygon points="600.4,484.6 608.9,479.6 606.5,475.4 598.0,480.5" fill="#fbfefb" stroke="#000" stroke-width="1.2" />
<line x1="575.8" y1="495.1" x2="578.4" y2="496.3" stroke="#000" stroke-width="0.7" />
<line x1="579.2" y1="493.0" x2="581.8" y2="494.3" stroke="#000" stroke-width="0.7" />
<line x1="582.6" y1="491.0" x2="585.2" y2="492.3" stroke="#000" stroke-width="0.7" />
<line x1="586.0" y1="489.0" x2="588.6" y2="490.2" stroke="#000" stroke-width="0.7" />
<line x1="589.4" y1="487.0" x2="592.0" y2="488.2" stroke="#000" stroke-width="0.7" />
<line x1="592.8" y1="485.0" x2="595.4" y2="486.2" stroke="#000" stroke-width="0.7" />
<line x1="596.2" y1="482.9" x2="598.8" y2="484.2" stroke="#000" stroke-width="0.7" />
<line x1="599.8" y1="480.3" x2="602.8" y2="482.3" stroke="#000" stroke-width="0.8" />
<line x1="602.4" y1="478.8" x2="605.4" y2="480.7" stroke="#000" stroke-width="0.8" />
<line x1="604.9" y1="477.3" x2="607.9" y2="479.2" stroke="#000" stroke-width="0.8" />
</svg></body></html>
